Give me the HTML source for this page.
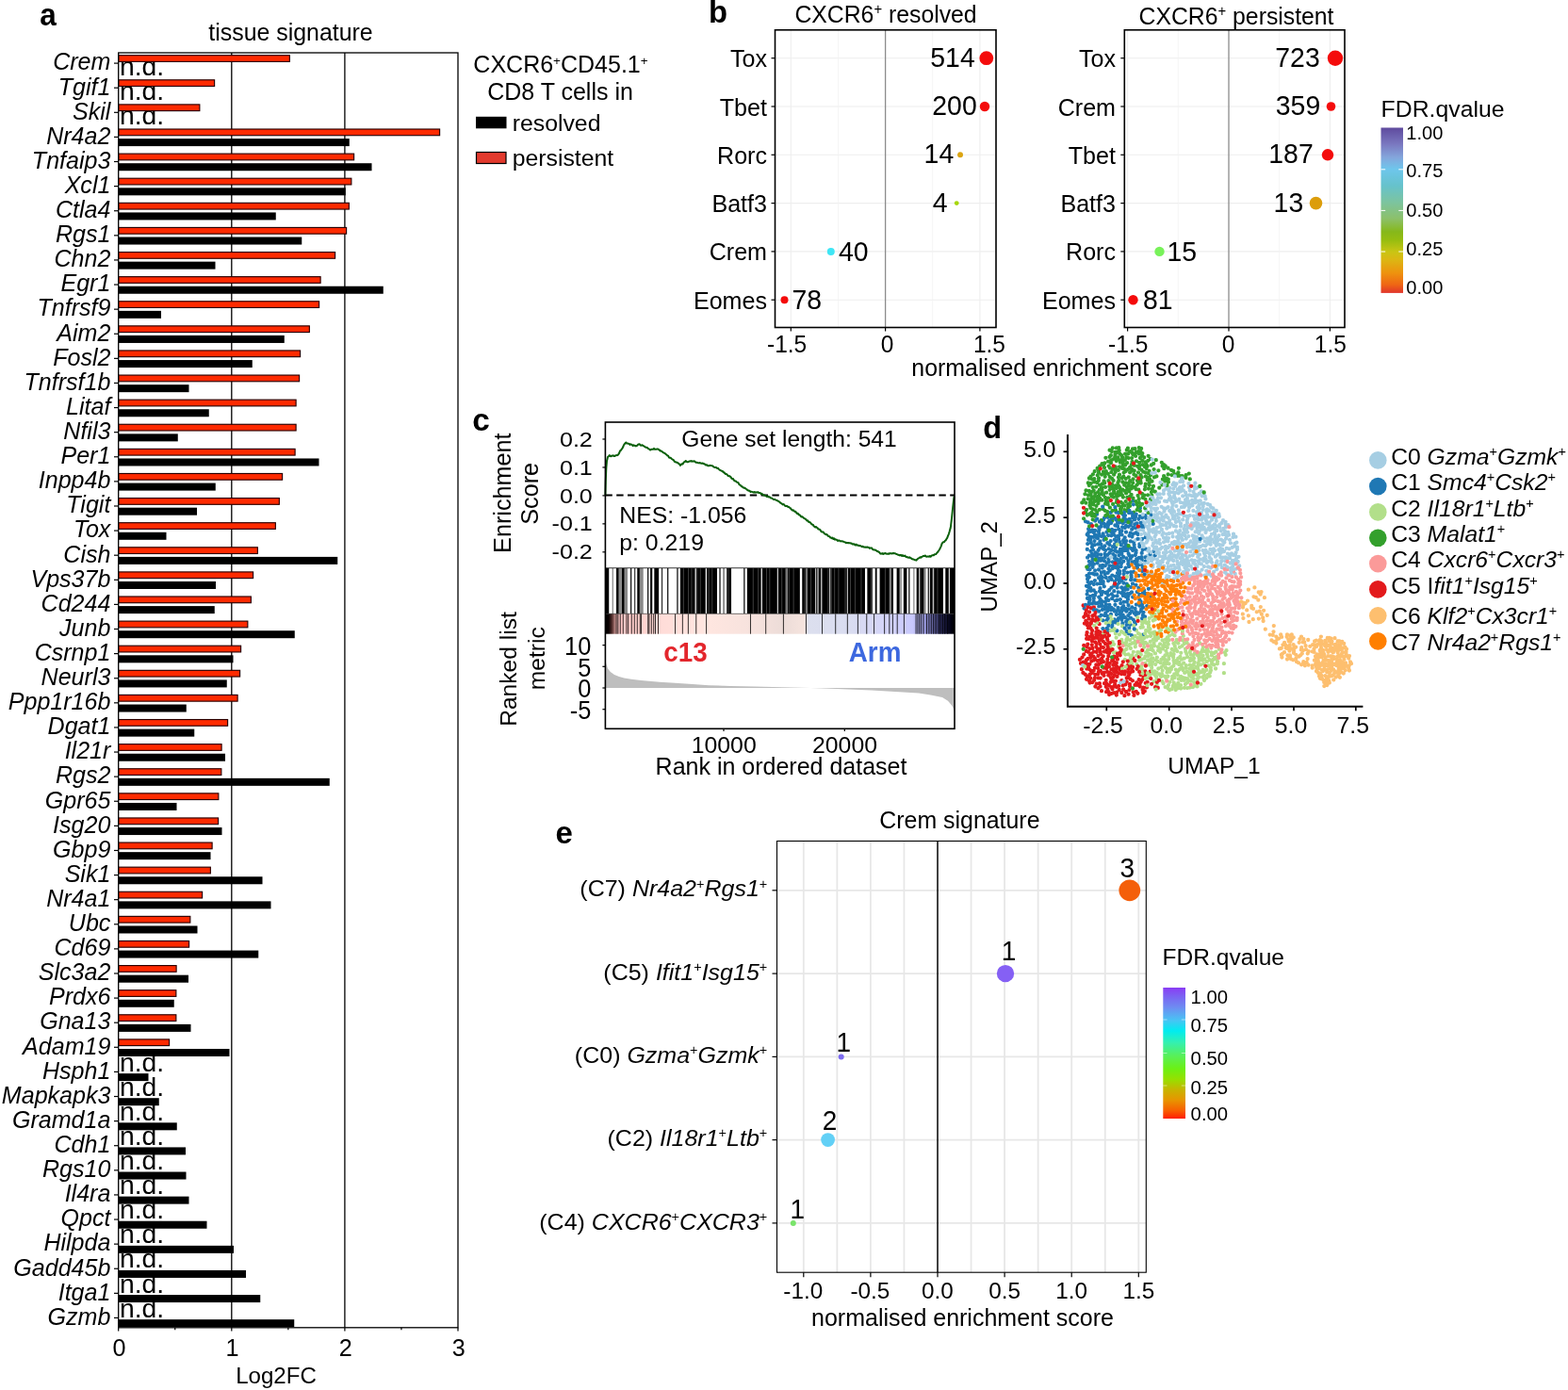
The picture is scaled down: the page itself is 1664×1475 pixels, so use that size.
<!DOCTYPE html>
<html lang="en"><head><meta charset="utf-8"><title>Figure</title>
<style>
html,body{margin:0;padding:0;background:#fff;}
body{width:1664px;height:1475px;overflow:hidden;}
svg{display:block;font-family:'Liberation Sans', sans-serif;}

</style></head><body>
<svg width="1664" height="1475" viewBox="0 0 1664 1475">
<rect width="1664" height="1475" fill="#fff"/>
<g id="panel-a">
<text font-size="33.2" font-weight="bold" transform="translate(42.3 27.4) scale(0.95 1)">a</text>
<text font-size="24.9" text-anchor="middle" transform="translate(308.5 42.6) scale(1 1)">tissue signature</text>
<text font-size="28.3" transform="translate(127 79.7) scale(1 1)">n.d.</text>
<text font-size="28.3" transform="translate(127 105.8) scale(1 1)">n.d.</text>
<text font-size="28.3" transform="translate(127 131.91) scale(1 1)">n.d.</text>
<text font-size="28.3" transform="translate(127 1136.61) scale(1 1)">n.d.</text>
<text font-size="28.3" transform="translate(127 1162.71) scale(1 1)">n.d.</text>
<text font-size="28.3" transform="translate(127 1188.82) scale(1 1)">n.d.</text>
<text font-size="28.3" transform="translate(127 1214.92) scale(1 1)">n.d.</text>
<text font-size="28.3" transform="translate(127 1241.02) scale(1 1)">n.d.</text>
<text font-size="28.3" transform="translate(127 1267.13) scale(1 1)">n.d.</text>
<text font-size="28.3" transform="translate(127 1293.23) scale(1 1)">n.d.</text>
<text font-size="28.3" transform="translate(127 1319.34) scale(1 1)">n.d.</text>
<text font-size="28.3" transform="translate(127 1345.44) scale(1 1)">n.d.</text>
<text font-size="28.3" transform="translate(127 1371.55) scale(1 1)">n.d.</text>
<text font-size="28.3" transform="translate(127 1397.65) scale(1 1)">n.d.</text>
<line x1="245.8" y1="56" x2="245.8" y2="1408.8" stroke="#000" stroke-width="1.3" />
<line x1="365.9" y1="56" x2="365.9" y2="1408.8" stroke="#000" stroke-width="1.3" />
<rect x="125.7" y="58.7" width="181.65" height="6.7" fill="#ff2a00" stroke="#2a0000" stroke-width="1.15" />
<rect x="125.7" y="84.8" width="101.9" height="6.7" fill="#ff2a00" stroke="#2a0000" stroke-width="1.15" />
<rect x="125.7" y="110.91" width="86.15" height="6.7" fill="#ff2a00" stroke="#2a0000" stroke-width="1.15" />
<rect x="125.7" y="137.01" width="340.9" height="6.7" fill="#ff2a00" stroke="#2a0000" stroke-width="1.15" />
<rect x="125.7" y="147.11" width="245.05" height="8" fill="#000" stroke="none" stroke-width="1" />
<rect x="125.7" y="163.12" width="249.9" height="6.7" fill="#ff2a00" stroke="#2a0000" stroke-width="1.15" />
<rect x="125.7" y="173.22" width="268.8" height="8" fill="#000" stroke="none" stroke-width="1" />
<rect x="125.7" y="189.22" width="247.15" height="6.7" fill="#ff2a00" stroke="#2a0000" stroke-width="1.15" />
<rect x="125.7" y="199.32" width="241.05" height="8" fill="#000" stroke="none" stroke-width="1" />
<rect x="125.7" y="215.33" width="244.65" height="6.7" fill="#ff2a00" stroke="#2a0000" stroke-width="1.15" />
<rect x="125.7" y="225.43" width="167.05" height="8" fill="#000" stroke="none" stroke-width="1" />
<rect x="125.7" y="241.44" width="241.9" height="6.7" fill="#ff2a00" stroke="#2a0000" stroke-width="1.15" />
<rect x="125.7" y="251.53" width="194.55" height="8" fill="#000" stroke="none" stroke-width="1" />
<rect x="125.7" y="267.54" width="229.9" height="6.7" fill="#ff2a00" stroke="#2a0000" stroke-width="1.15" />
<rect x="125.7" y="277.64" width="102.8" height="8" fill="#000" stroke="none" stroke-width="1" />
<rect x="125.7" y="293.64" width="214.4" height="6.7" fill="#ff2a00" stroke="#2a0000" stroke-width="1.15" />
<rect x="125.7" y="303.74" width="281.05" height="8" fill="#000" stroke="none" stroke-width="1" />
<rect x="125.7" y="319.75" width="212.9" height="6.7" fill="#ff2a00" stroke="#2a0000" stroke-width="1.15" />
<rect x="125.7" y="329.85" width="45.3" height="8" fill="#000" stroke="none" stroke-width="1" />
<rect x="125.7" y="345.86" width="202.65" height="6.7" fill="#ff2a00" stroke="#2a0000" stroke-width="1.15" />
<rect x="125.7" y="355.95" width="176.05" height="8" fill="#000" stroke="none" stroke-width="1" />
<rect x="125.7" y="371.96" width="192.9" height="6.7" fill="#ff2a00" stroke="#2a0000" stroke-width="1.15" />
<rect x="125.7" y="382.06" width="142.05" height="8" fill="#000" stroke="none" stroke-width="1" />
<rect x="125.7" y="398.07" width="191.9" height="6.7" fill="#ff2a00" stroke="#2a0000" stroke-width="1.15" />
<rect x="125.7" y="408.17" width="74.8" height="8" fill="#000" stroke="none" stroke-width="1" />
<rect x="125.7" y="424.17" width="188.4" height="6.7" fill="#ff2a00" stroke="#2a0000" stroke-width="1.15" />
<rect x="125.7" y="434.27" width="96.05" height="8" fill="#000" stroke="none" stroke-width="1" />
<rect x="125.7" y="450.27" width="188.4" height="6.7" fill="#ff2a00" stroke="#2a0000" stroke-width="1.15" />
<rect x="125.7" y="460.37" width="63.05" height="8" fill="#000" stroke="none" stroke-width="1" />
<rect x="125.7" y="476.38" width="187.4" height="6.7" fill="#ff2a00" stroke="#2a0000" stroke-width="1.15" />
<rect x="125.7" y="486.48" width="212.8" height="8" fill="#000" stroke="none" stroke-width="1" />
<rect x="125.7" y="502.49" width="173.9" height="6.7" fill="#ff2a00" stroke="#2a0000" stroke-width="1.15" />
<rect x="125.7" y="512.59" width="103.05" height="8" fill="#000" stroke="none" stroke-width="1" />
<rect x="125.7" y="528.59" width="170.65" height="6.7" fill="#ff2a00" stroke="#2a0000" stroke-width="1.15" />
<rect x="125.7" y="538.69" width="83.3" height="8" fill="#000" stroke="none" stroke-width="1" />
<rect x="125.7" y="554.7" width="166.65" height="6.7" fill="#ff2a00" stroke="#2a0000" stroke-width="1.15" />
<rect x="125.7" y="564.8" width="50.8" height="8" fill="#000" stroke="none" stroke-width="1" />
<rect x="125.7" y="580.8" width="147.65" height="6.7" fill="#ff2a00" stroke="#2a0000" stroke-width="1.15" />
<rect x="125.7" y="590.9" width="232.55" height="8" fill="#000" stroke="none" stroke-width="1" />
<rect x="125.7" y="606.91" width="142.9" height="6.7" fill="#ff2a00" stroke="#2a0000" stroke-width="1.15" />
<rect x="125.7" y="617.01" width="103.3" height="8" fill="#000" stroke="none" stroke-width="1" />
<rect x="125.7" y="633.01" width="140.65" height="6.7" fill="#ff2a00" stroke="#2a0000" stroke-width="1.15" />
<rect x="125.7" y="643.11" width="102.05" height="8" fill="#000" stroke="none" stroke-width="1" />
<rect x="125.7" y="659.12" width="137.15" height="6.7" fill="#ff2a00" stroke="#2a0000" stroke-width="1.15" />
<rect x="125.7" y="669.22" width="187.05" height="8" fill="#000" stroke="none" stroke-width="1" />
<rect x="125.7" y="685.22" width="129.9" height="6.7" fill="#ff2a00" stroke="#2a0000" stroke-width="1.15" />
<rect x="125.7" y="695.32" width="121.8" height="8" fill="#000" stroke="none" stroke-width="1" />
<rect x="125.7" y="711.33" width="128.9" height="6.7" fill="#ff2a00" stroke="#2a0000" stroke-width="1.15" />
<rect x="125.7" y="721.43" width="115.05" height="8" fill="#000" stroke="none" stroke-width="1" />
<rect x="125.7" y="737.43" width="126.4" height="6.7" fill="#ff2a00" stroke="#2a0000" stroke-width="1.15" />
<rect x="125.7" y="747.53" width="72.05" height="8" fill="#000" stroke="none" stroke-width="1" />
<rect x="125.7" y="763.54" width="115.9" height="6.7" fill="#ff2a00" stroke="#2a0000" stroke-width="1.15" />
<rect x="125.7" y="773.64" width="80.55" height="8" fill="#000" stroke="none" stroke-width="1" />
<rect x="125.7" y="789.64" width="109.4" height="6.7" fill="#ff2a00" stroke="#2a0000" stroke-width="1.15" />
<rect x="125.7" y="799.74" width="113.3" height="8" fill="#000" stroke="none" stroke-width="1" />
<rect x="125.7" y="815.75" width="109.15" height="6.7" fill="#ff2a00" stroke="#2a0000" stroke-width="1.15" />
<rect x="125.7" y="825.85" width="224.05" height="8" fill="#000" stroke="none" stroke-width="1" />
<rect x="125.7" y="841.85" width="106.15" height="6.7" fill="#ff2a00" stroke="#2a0000" stroke-width="1.15" />
<rect x="125.7" y="851.95" width="61.8" height="8" fill="#000" stroke="none" stroke-width="1" />
<rect x="125.7" y="867.96" width="105.9" height="6.7" fill="#ff2a00" stroke="#2a0000" stroke-width="1.15" />
<rect x="125.7" y="878.06" width="109.8" height="8" fill="#000" stroke="none" stroke-width="1" />
<rect x="125.7" y="894.06" width="99.4" height="6.7" fill="#ff2a00" stroke="#2a0000" stroke-width="1.15" />
<rect x="125.7" y="904.16" width="97.8" height="8" fill="#000" stroke="none" stroke-width="1" />
<rect x="125.7" y="920.17" width="97.65" height="6.7" fill="#ff2a00" stroke="#2a0000" stroke-width="1.15" />
<rect x="125.7" y="930.27" width="152.8" height="8" fill="#000" stroke="none" stroke-width="1" />
<rect x="125.7" y="946.27" width="88.9" height="6.7" fill="#ff2a00" stroke="#2a0000" stroke-width="1.15" />
<rect x="125.7" y="956.37" width="161.8" height="8" fill="#000" stroke="none" stroke-width="1" />
<rect x="125.7" y="972.38" width="76.15" height="6.7" fill="#ff2a00" stroke="#2a0000" stroke-width="1.15" />
<rect x="125.7" y="982.48" width="83.8" height="8" fill="#000" stroke="none" stroke-width="1" />
<rect x="125.7" y="998.48" width="74.9" height="6.7" fill="#ff2a00" stroke="#2a0000" stroke-width="1.15" />
<rect x="125.7" y="1008.58" width="148.55" height="8" fill="#000" stroke="none" stroke-width="1" />
<rect x="125.7" y="1024.58" width="61.4" height="6.7" fill="#ff2a00" stroke="#2a0000" stroke-width="1.15" />
<rect x="125.7" y="1034.68" width="74.3" height="8" fill="#000" stroke="none" stroke-width="1" />
<rect x="125.7" y="1050.69" width="61.15" height="6.7" fill="#ff2a00" stroke="#2a0000" stroke-width="1.15" />
<rect x="125.7" y="1060.79" width="59.05" height="8" fill="#000" stroke="none" stroke-width="1" />
<rect x="125.7" y="1076.79" width="61.15" height="6.7" fill="#ff2a00" stroke="#2a0000" stroke-width="1.15" />
<rect x="125.7" y="1086.89" width="76.8" height="8" fill="#000" stroke="none" stroke-width="1" />
<rect x="125.7" y="1102.9" width="53.9" height="6.7" fill="#ff2a00" stroke="#2a0000" stroke-width="1.15" />
<rect x="125.7" y="1113" width="117.8" height="8" fill="#000" stroke="none" stroke-width="1" />
<rect x="125.7" y="1139.11" width="31.8" height="8" fill="#000" stroke="none" stroke-width="1" />
<rect x="125.7" y="1165.21" width="43.05" height="8" fill="#000" stroke="none" stroke-width="1" />
<rect x="125.7" y="1191.32" width="62.05" height="8" fill="#000" stroke="none" stroke-width="1" />
<rect x="125.7" y="1217.42" width="71.3" height="8" fill="#000" stroke="none" stroke-width="1" />
<rect x="125.7" y="1243.52" width="71.8" height="8" fill="#000" stroke="none" stroke-width="1" />
<rect x="125.7" y="1269.63" width="74.8" height="8" fill="#000" stroke="none" stroke-width="1" />
<rect x="125.7" y="1295.73" width="93.8" height="8" fill="#000" stroke="none" stroke-width="1" />
<rect x="125.7" y="1321.84" width="122.3" height="8" fill="#000" stroke="none" stroke-width="1" />
<rect x="125.7" y="1347.94" width="135.3" height="8" fill="#000" stroke="none" stroke-width="1" />
<rect x="125.7" y="1374.05" width="150.55" height="8" fill="#000" stroke="none" stroke-width="1" />
<rect x="125.7" y="1400.15" width="186.55" height="8" fill="#000" stroke="none" stroke-width="1" />
<rect x="125.7" y="56" width="360.3" height="1352.8" fill="none" stroke="#000" stroke-width="1.3" />
<line x1="121" y1="67.1" x2="125.7" y2="67.1" stroke="#000" stroke-width="1.2" />
<text font-size="25.05" text-anchor="end" font-style="italic" transform="translate(117.4 74.4) scale(1 1)">Crem</text>
<line x1="121" y1="93.2" x2="125.7" y2="93.2" stroke="#000" stroke-width="1.2" />
<text font-size="25.05" text-anchor="end" font-style="italic" transform="translate(117.4 100.5) scale(1 1)">Tgif1</text>
<line x1="121" y1="119.31" x2="125.7" y2="119.31" stroke="#000" stroke-width="1.2" />
<text font-size="25.05" text-anchor="end" font-style="italic" transform="translate(117.4 126.61) scale(1 1)">Skil</text>
<line x1="121" y1="145.41" x2="125.7" y2="145.41" stroke="#000" stroke-width="1.2" />
<text font-size="25.05" text-anchor="end" font-style="italic" transform="translate(117.4 152.72) scale(1 1)">Nr4a2</text>
<line x1="121" y1="171.52" x2="125.7" y2="171.52" stroke="#000" stroke-width="1.2" />
<text font-size="25.05" text-anchor="end" font-style="italic" transform="translate(117.4 178.82) scale(1 1)">Tnfaip3</text>
<line x1="121" y1="197.62" x2="125.7" y2="197.62" stroke="#000" stroke-width="1.2" />
<text font-size="25.05" text-anchor="end" font-style="italic" transform="translate(117.4 204.93) scale(1 1)">Xcl1</text>
<line x1="121" y1="223.73" x2="125.7" y2="223.73" stroke="#000" stroke-width="1.2" />
<text font-size="25.05" text-anchor="end" font-style="italic" transform="translate(117.4 231.03) scale(1 1)">Ctla4</text>
<line x1="121" y1="249.84" x2="125.7" y2="249.84" stroke="#000" stroke-width="1.2" />
<text font-size="25.05" text-anchor="end" font-style="italic" transform="translate(117.4 257.13) scale(1 1)">Rgs1</text>
<line x1="121" y1="275.94" x2="125.7" y2="275.94" stroke="#000" stroke-width="1.2" />
<text font-size="25.05" text-anchor="end" font-style="italic" transform="translate(117.4 283.24) scale(1 1)">Chn2</text>
<line x1="121" y1="302.04" x2="125.7" y2="302.04" stroke="#000" stroke-width="1.2" />
<text font-size="25.05" text-anchor="end" font-style="italic" transform="translate(117.4 309.34) scale(1 1)">Egr1</text>
<line x1="121" y1="328.15" x2="125.7" y2="328.15" stroke="#000" stroke-width="1.2" />
<text font-size="25.05" text-anchor="end" font-style="italic" transform="translate(117.4 335.45) scale(1 1)">Tnfrsf9</text>
<line x1="121" y1="354.25" x2="125.7" y2="354.25" stroke="#000" stroke-width="1.2" />
<text font-size="25.05" text-anchor="end" font-style="italic" transform="translate(117.4 361.56) scale(1 1)">Aim2</text>
<line x1="121" y1="380.36" x2="125.7" y2="380.36" stroke="#000" stroke-width="1.2" />
<text font-size="25.05" text-anchor="end" font-style="italic" transform="translate(117.4 387.66) scale(1 1)">Fosl2</text>
<line x1="121" y1="406.47" x2="125.7" y2="406.47" stroke="#000" stroke-width="1.2" />
<text font-size="25.05" text-anchor="end" font-style="italic" transform="translate(117.4 413.77) scale(1 1)">Tnfrsf1b</text>
<line x1="121" y1="432.57" x2="125.7" y2="432.57" stroke="#000" stroke-width="1.2" />
<text font-size="25.05" text-anchor="end" font-style="italic" transform="translate(117.4 439.87) scale(1 1)">Litaf</text>
<line x1="121" y1="458.67" x2="125.7" y2="458.67" stroke="#000" stroke-width="1.2" />
<text font-size="25.05" text-anchor="end" font-style="italic" transform="translate(117.4 465.97) scale(1 1)">Nfil3</text>
<line x1="121" y1="484.78" x2="125.7" y2="484.78" stroke="#000" stroke-width="1.2" />
<text font-size="25.05" text-anchor="end" font-style="italic" transform="translate(117.4 492.08) scale(1 1)">Per1</text>
<line x1="121" y1="510.88" x2="125.7" y2="510.88" stroke="#000" stroke-width="1.2" />
<text font-size="25.05" text-anchor="end" font-style="italic" transform="translate(117.4 518.18) scale(1 1)">Inpp4b</text>
<line x1="121" y1="536.99" x2="125.7" y2="536.99" stroke="#000" stroke-width="1.2" />
<text font-size="25.05" text-anchor="end" font-style="italic" transform="translate(117.4 544.29) scale(1 1)">Tigit</text>
<line x1="121" y1="563.1" x2="125.7" y2="563.1" stroke="#000" stroke-width="1.2" />
<text font-size="25.05" text-anchor="end" font-style="italic" transform="translate(117.4 570.39) scale(1 1)">Tox</text>
<line x1="121" y1="589.2" x2="125.7" y2="589.2" stroke="#000" stroke-width="1.2" />
<text font-size="25.05" text-anchor="end" font-style="italic" transform="translate(117.4 596.5) scale(1 1)">Cish</text>
<line x1="121" y1="615.31" x2="125.7" y2="615.31" stroke="#000" stroke-width="1.2" />
<text font-size="25.05" text-anchor="end" font-style="italic" transform="translate(117.4 622.61) scale(1 1)">Vps37b</text>
<line x1="121" y1="641.41" x2="125.7" y2="641.41" stroke="#000" stroke-width="1.2" />
<text font-size="25.05" text-anchor="end" font-style="italic" transform="translate(117.4 648.71) scale(1 1)">Cd244</text>
<line x1="121" y1="667.51" x2="125.7" y2="667.51" stroke="#000" stroke-width="1.2" />
<text font-size="25.05" text-anchor="end" font-style="italic" transform="translate(117.4 674.81) scale(1 1)">Junb</text>
<line x1="121" y1="693.62" x2="125.7" y2="693.62" stroke="#000" stroke-width="1.2" />
<text font-size="25.05" text-anchor="end" font-style="italic" transform="translate(117.4 700.92) scale(1 1)">Csrnp1</text>
<line x1="121" y1="719.73" x2="125.7" y2="719.73" stroke="#000" stroke-width="1.2" />
<text font-size="25.05" text-anchor="end" font-style="italic" transform="translate(117.4 727.02) scale(1 1)">Neurl3</text>
<line x1="121" y1="745.83" x2="125.7" y2="745.83" stroke="#000" stroke-width="1.2" />
<text font-size="25.05" text-anchor="end" font-style="italic" transform="translate(117.4 753.13) scale(1 1)">Ppp1r16b</text>
<line x1="121" y1="771.94" x2="125.7" y2="771.94" stroke="#000" stroke-width="1.2" />
<text font-size="25.05" text-anchor="end" font-style="italic" transform="translate(117.4 779.24) scale(1 1)">Dgat1</text>
<line x1="121" y1="798.04" x2="125.7" y2="798.04" stroke="#000" stroke-width="1.2" />
<text font-size="25.05" text-anchor="end" font-style="italic" transform="translate(117.4 805.34) scale(1 1)">Il21r</text>
<line x1="121" y1="824.14" x2="125.7" y2="824.14" stroke="#000" stroke-width="1.2" />
<text font-size="25.05" text-anchor="end" font-style="italic" transform="translate(117.4 831.44) scale(1 1)">Rgs2</text>
<line x1="121" y1="850.25" x2="125.7" y2="850.25" stroke="#000" stroke-width="1.2" />
<text font-size="25.05" text-anchor="end" font-style="italic" transform="translate(117.4 857.55) scale(1 1)">Gpr65</text>
<line x1="121" y1="876.36" x2="125.7" y2="876.36" stroke="#000" stroke-width="1.2" />
<text font-size="25.05" text-anchor="end" font-style="italic" transform="translate(117.4 883.65) scale(1 1)">Isg20</text>
<line x1="121" y1="902.46" x2="125.7" y2="902.46" stroke="#000" stroke-width="1.2" />
<text font-size="25.05" text-anchor="end" font-style="italic" transform="translate(117.4 909.76) scale(1 1)">Gbp9</text>
<line x1="121" y1="928.57" x2="125.7" y2="928.57" stroke="#000" stroke-width="1.2" />
<text font-size="25.05" text-anchor="end" font-style="italic" transform="translate(117.4 935.87) scale(1 1)">Sik1</text>
<line x1="121" y1="954.67" x2="125.7" y2="954.67" stroke="#000" stroke-width="1.2" />
<text font-size="25.05" text-anchor="end" font-style="italic" transform="translate(117.4 961.97) scale(1 1)">Nr4a1</text>
<line x1="121" y1="980.78" x2="125.7" y2="980.78" stroke="#000" stroke-width="1.2" />
<text font-size="25.05" text-anchor="end" font-style="italic" transform="translate(117.4 988.08) scale(1 1)">Ubc</text>
<line x1="121" y1="1006.88" x2="125.7" y2="1006.88" stroke="#000" stroke-width="1.2" />
<text font-size="25.05" text-anchor="end" font-style="italic" transform="translate(117.4 1014.18) scale(1 1)">Cd69</text>
<line x1="121" y1="1032.98" x2="125.7" y2="1032.98" stroke="#000" stroke-width="1.2" />
<text font-size="25.05" text-anchor="end" font-style="italic" transform="translate(117.4 1040.28) scale(1 1)">Slc3a2</text>
<line x1="121" y1="1059.09" x2="125.7" y2="1059.09" stroke="#000" stroke-width="1.2" />
<text font-size="25.05" text-anchor="end" font-style="italic" transform="translate(117.4 1066.39) scale(1 1)">Prdx6</text>
<line x1="121" y1="1085.19" x2="125.7" y2="1085.19" stroke="#000" stroke-width="1.2" />
<text font-size="25.05" text-anchor="end" font-style="italic" transform="translate(117.4 1092.49) scale(1 1)">Gna13</text>
<line x1="121" y1="1111.3" x2="125.7" y2="1111.3" stroke="#000" stroke-width="1.2" />
<text font-size="25.05" text-anchor="end" font-style="italic" transform="translate(117.4 1118.6) scale(1 1)">Adam19</text>
<line x1="121" y1="1137.4" x2="125.7" y2="1137.4" stroke="#000" stroke-width="1.2" />
<text font-size="25.05" text-anchor="end" font-style="italic" transform="translate(117.4 1144.7) scale(1 1)">Hsph1</text>
<line x1="121" y1="1163.51" x2="125.7" y2="1163.51" stroke="#000" stroke-width="1.2" />
<text font-size="25.05" text-anchor="end" font-style="italic" transform="translate(117.4 1170.81) scale(1 1)">Mapkapk3</text>
<line x1="121" y1="1189.62" x2="125.7" y2="1189.62" stroke="#000" stroke-width="1.2" />
<text font-size="25.05" text-anchor="end" font-style="italic" transform="translate(117.4 1196.91) scale(1 1)">Gramd1a</text>
<line x1="121" y1="1215.72" x2="125.7" y2="1215.72" stroke="#000" stroke-width="1.2" />
<text font-size="25.05" text-anchor="end" font-style="italic" transform="translate(117.4 1223.02) scale(1 1)">Cdh1</text>
<line x1="121" y1="1241.82" x2="125.7" y2="1241.82" stroke="#000" stroke-width="1.2" />
<text font-size="25.05" text-anchor="end" font-style="italic" transform="translate(117.4 1249.12) scale(1 1)">Rgs10</text>
<line x1="121" y1="1267.93" x2="125.7" y2="1267.93" stroke="#000" stroke-width="1.2" />
<text font-size="25.05" text-anchor="end" font-style="italic" transform="translate(117.4 1275.23) scale(1 1)">Il4ra</text>
<line x1="121" y1="1294.03" x2="125.7" y2="1294.03" stroke="#000" stroke-width="1.2" />
<text font-size="25.05" text-anchor="end" font-style="italic" transform="translate(117.4 1301.33) scale(1 1)">Qpct</text>
<line x1="121" y1="1320.14" x2="125.7" y2="1320.14" stroke="#000" stroke-width="1.2" />
<text font-size="25.05" text-anchor="end" font-style="italic" transform="translate(117.4 1327.44) scale(1 1)">Hilpda</text>
<line x1="121" y1="1346.24" x2="125.7" y2="1346.24" stroke="#000" stroke-width="1.2" />
<text font-size="25.05" text-anchor="end" font-style="italic" transform="translate(117.4 1353.54) scale(1 1)">Gadd45b</text>
<line x1="121" y1="1372.35" x2="125.7" y2="1372.35" stroke="#000" stroke-width="1.2" />
<text font-size="25.05" text-anchor="end" font-style="italic" transform="translate(117.4 1379.65) scale(1 1)">Itga1</text>
<line x1="121" y1="1398.45" x2="125.7" y2="1398.45" stroke="#000" stroke-width="1.2" />
<text font-size="25.05" text-anchor="end" font-style="italic" transform="translate(117.4 1405.75) scale(1 1)">Gzmb</text>
<line x1="125.7" y1="1408.8" x2="125.7" y2="1412.6" stroke="#000" stroke-width="1.2" />
<line x1="185.75" y1="1408.8" x2="185.75" y2="1411.2" stroke="#000" stroke-width="1.2" />
<line x1="245.8" y1="1408.8" x2="245.8" y2="1412.6" stroke="#000" stroke-width="1.2" />
<line x1="305.85" y1="1408.8" x2="305.85" y2="1411.2" stroke="#000" stroke-width="1.2" />
<line x1="365.9" y1="1408.8" x2="365.9" y2="1412.6" stroke="#000" stroke-width="1.2" />
<line x1="425.95" y1="1408.8" x2="425.95" y2="1411.2" stroke="#000" stroke-width="1.2" />
<line x1="486" y1="1408.8" x2="486" y2="1412.6" stroke="#000" stroke-width="1.2" />
<text font-size="25.2" text-anchor="middle" transform="translate(126.5 1438.5) scale(1 1)">0</text>
<text font-size="25.2" text-anchor="middle" transform="translate(246.6 1438.5) scale(1 1)">1</text>
<text font-size="25.2" text-anchor="middle" transform="translate(366.7 1438.5) scale(1 1)">2</text>
<text font-size="25.2" text-anchor="middle" transform="translate(486.8 1438.5) scale(1 1)">3</text>
<text font-size="24.1" text-anchor="middle" transform="translate(293 1468) scale(1 1)">Log2FC</text>
<text transform="translate(595 77.4) scale(1 1)" font-size="25" text-anchor="middle" xml:space="preserve"><tspan>CXCR6</tspan><tspan font-size="13.5" dy="-8.3">+</tspan><tspan dy="8.3">CD45.1</tspan><tspan font-size="13.5" dy="-8.3">+</tspan></text>
<text font-size="25" text-anchor="middle" transform="translate(594.5 106.3) scale(1 1)">CD8 T cells in</text>
<rect x="505" y="123.8" width="32.5" height="12.5" fill="#000" stroke="none" stroke-width="1" />
<text font-size="24.8" transform="translate(543.7 139.2) scale(1 1)">resolved</text>
<rect x="505.5" y="161.5" width="31.5" height="12" fill="#e23a2e" stroke="#000" stroke-width="1.2" />
<text font-size="24.8" transform="translate(543.7 176.3) scale(1 1)">persistent</text>
</g>
<g id="panel-b">
<text font-size="32.8" font-weight="bold" transform="translate(752 24) scale(1 1.03)">b</text>
<line x1="822.5" y1="61.7" x2="1057" y2="61.7" stroke="#eeeeee" stroke-width="1.1" />
<line x1="822.5" y1="113" x2="1057" y2="113" stroke="#eeeeee" stroke-width="1.1" />
<line x1="822.5" y1="164.3" x2="1057" y2="164.3" stroke="#eeeeee" stroke-width="1.1" />
<line x1="822.5" y1="215.6" x2="1057" y2="215.6" stroke="#eeeeee" stroke-width="1.1" />
<line x1="822.5" y1="266.9" x2="1057" y2="266.9" stroke="#eeeeee" stroke-width="1.1" />
<line x1="822.5" y1="318.2" x2="1057" y2="318.2" stroke="#eeeeee" stroke-width="1.1" />
<line x1="889.45" y1="31.8" x2="889.45" y2="347.5" stroke="#f2f2f2" stroke-width="0.8" />
<line x1="989.75" y1="31.8" x2="989.75" y2="347.5" stroke="#f2f2f2" stroke-width="0.8" />
<line x1="839.3" y1="31.8" x2="839.3" y2="347.5" stroke="#eeeeee" stroke-width="1.1" />
<line x1="1039.9" y1="31.8" x2="1039.9" y2="347.5" stroke="#eeeeee" stroke-width="1.1" />
<line x1="939.6" y1="31.8" x2="939.6" y2="347.5" stroke="#8c8c8c" stroke-width="1.3" />
<circle cx="1046.8" cy="61.7" r="7.4" fill="#f40b0b"/>
<text font-size="28.4" text-anchor="end" transform="translate(1034.7 70.7) scale(1 1.07)">514</text>
<circle cx="1045" cy="113" r="5.25" fill="#f40b0b"/>
<text font-size="28.4" text-anchor="end" transform="translate(1036.7 122) scale(1 1.07)">200</text>
<circle cx="1019" cy="164.3" r="3" fill="#dba411"/>
<text font-size="28.4" text-anchor="end" transform="translate(1012.2 173.3) scale(1 1.07)">14</text>
<circle cx="1015.2" cy="215.6" r="2.4" fill="#a6d608"/>
<text font-size="28.4" text-anchor="end" transform="translate(1005.5 224.6) scale(1 1.07)">4</text>
<circle cx="881.8" cy="266.9" r="4" fill="#3fe6f5"/>
<text font-size="28.4" transform="translate(890 276.5) scale(1 1.07)">40</text>
<circle cx="832.5" cy="318.2" r="4" fill="#f40b0b"/>
<text font-size="28.4" transform="translate(840.5 327.8) scale(1 1.07)">78</text>
<rect x="822.5" y="31.8" width="234.5" height="315.7" fill="none" stroke="#000" stroke-width="1.6" />
<line x1="818.5" y1="61.7" x2="822.5" y2="61.7" stroke="#000" stroke-width="1.2" />
<text font-size="25.1" text-anchor="end" transform="translate(814 71.2) scale(1 1.05)">Tox</text>
<line x1="818.5" y1="113" x2="822.5" y2="113" stroke="#000" stroke-width="1.2" />
<text font-size="25.1" text-anchor="end" transform="translate(814 122.5) scale(1 1.05)">Tbet</text>
<line x1="818.5" y1="164.3" x2="822.5" y2="164.3" stroke="#000" stroke-width="1.2" />
<text font-size="25.1" text-anchor="end" transform="translate(814 173.8) scale(1 1.05)">Rorc</text>
<line x1="818.5" y1="215.6" x2="822.5" y2="215.6" stroke="#000" stroke-width="1.2" />
<text font-size="25.1" text-anchor="end" transform="translate(814 225.1) scale(1 1.05)">Batf3</text>
<line x1="818.5" y1="266.9" x2="822.5" y2="266.9" stroke="#000" stroke-width="1.2" />
<text font-size="25.1" text-anchor="end" transform="translate(814 276.4) scale(1 1.05)">Crem</text>
<line x1="818.5" y1="318.2" x2="822.5" y2="318.2" stroke="#000" stroke-width="1.2" />
<text font-size="25.1" text-anchor="end" transform="translate(814 327.7) scale(1 1.05)">Eomes</text>
<line x1="839.3" y1="347.5" x2="839.3" y2="351.5" stroke="#000" stroke-width="1.2" />
<text font-size="24.5" text-anchor="middle" transform="translate(835.1 374.2) scale(1 1.07)">-1.5</text>
<line x1="939.6" y1="347.5" x2="939.6" y2="351.5" stroke="#000" stroke-width="1.2" />
<text font-size="24.5" text-anchor="middle" transform="translate(941.6 374.2) scale(1 1.07)">0</text>
<line x1="1039.9" y1="347.5" x2="1039.9" y2="351.5" stroke="#000" stroke-width="1.2" />
<text font-size="24.5" text-anchor="middle" transform="translate(1049.9 374.2) scale(1 1.07)">1.5</text>
<text transform="translate(940 24.3) scale(1 1.05)" font-size="24.8" text-anchor="middle" xml:space="preserve"><tspan>CXCR6</tspan><tspan font-size="14.88" dy="-8.93">+</tspan><tspan dy="8.93"> resolved</tspan></text>
<line x1="1193.3" y1="61.7" x2="1427" y2="61.7" stroke="#eeeeee" stroke-width="1.1" />
<line x1="1193.3" y1="113" x2="1427" y2="113" stroke="#eeeeee" stroke-width="1.1" />
<line x1="1193.3" y1="164.3" x2="1427" y2="164.3" stroke="#eeeeee" stroke-width="1.1" />
<line x1="1193.3" y1="215.6" x2="1427" y2="215.6" stroke="#eeeeee" stroke-width="1.1" />
<line x1="1193.3" y1="266.9" x2="1427" y2="266.9" stroke="#eeeeee" stroke-width="1.1" />
<line x1="1193.3" y1="318.2" x2="1427" y2="318.2" stroke="#eeeeee" stroke-width="1.1" />
<line x1="1250.3" y1="31.8" x2="1250.3" y2="347.5" stroke="#f2f2f2" stroke-width="0.8" />
<line x1="1357.7" y1="31.8" x2="1357.7" y2="347.5" stroke="#f2f2f2" stroke-width="0.8" />
<line x1="1196.6" y1="31.8" x2="1196.6" y2="347.5" stroke="#eeeeee" stroke-width="1.1" />
<line x1="1411.4" y1="31.8" x2="1411.4" y2="347.5" stroke="#eeeeee" stroke-width="1.1" />
<line x1="1304" y1="31.8" x2="1304" y2="347.5" stroke="#8c8c8c" stroke-width="1.3" />
<circle cx="1417" cy="61.7" r="8.2" fill="#f40b0b"/>
<text font-size="28.4" text-anchor="end" transform="translate(1400.7 70.7) scale(1 1.07)">723</text>
<circle cx="1412.5" cy="113" r="4.8" fill="#f40b0b"/>
<text font-size="28.4" text-anchor="end" transform="translate(1401.2 122) scale(1 1.07)">359</text>
<circle cx="1409" cy="164.3" r="6.2" fill="#f40b0b"/>
<text font-size="28.4" text-anchor="end" transform="translate(1393.7 173.3) scale(1 1.07)">187</text>
<circle cx="1396.5" cy="215.6" r="6.8" fill="#dc9d0b"/>
<text font-size="28.4" text-anchor="end" transform="translate(1383.2 224.6) scale(1 1.07)">13</text>
<circle cx="1230.5" cy="266.9" r="5.2" fill="#78f25a"/>
<text font-size="28.4" transform="translate(1238.5 276.5) scale(1 1.07)">15</text>
<circle cx="1202.5" cy="318.2" r="5.2" fill="#f40b0b"/>
<text font-size="28.4" transform="translate(1213 327.8) scale(1 1.07)">81</text>
<rect x="1193.3" y="31.8" width="233.7" height="315.7" fill="none" stroke="#000" stroke-width="1.6" />
<line x1="1189.3" y1="61.7" x2="1193.3" y2="61.7" stroke="#000" stroke-width="1.2" />
<text font-size="25.1" text-anchor="end" transform="translate(1184 71.2) scale(1 1.05)">Tox</text>
<line x1="1189.3" y1="113" x2="1193.3" y2="113" stroke="#000" stroke-width="1.2" />
<text font-size="25.1" text-anchor="end" transform="translate(1184 122.5) scale(1 1.05)">Crem</text>
<line x1="1189.3" y1="164.3" x2="1193.3" y2="164.3" stroke="#000" stroke-width="1.2" />
<text font-size="25.1" text-anchor="end" transform="translate(1184 173.8) scale(1 1.05)">Tbet</text>
<line x1="1189.3" y1="215.6" x2="1193.3" y2="215.6" stroke="#000" stroke-width="1.2" />
<text font-size="25.1" text-anchor="end" transform="translate(1184 225.1) scale(1 1.05)">Batf3</text>
<line x1="1189.3" y1="266.9" x2="1193.3" y2="266.9" stroke="#000" stroke-width="1.2" />
<text font-size="25.1" text-anchor="end" transform="translate(1184 276.4) scale(1 1.05)">Rorc</text>
<line x1="1189.3" y1="318.2" x2="1193.3" y2="318.2" stroke="#000" stroke-width="1.2" />
<text font-size="25.1" text-anchor="end" transform="translate(1184 327.7) scale(1 1.05)">Eomes</text>
<line x1="1196.6" y1="347.5" x2="1196.6" y2="351.5" stroke="#000" stroke-width="1.2" />
<text font-size="24.5" text-anchor="middle" transform="translate(1197.2 374.2) scale(1 1.07)">-1.5</text>
<line x1="1304" y1="347.5" x2="1304" y2="351.5" stroke="#000" stroke-width="1.2" />
<text font-size="24.5" text-anchor="middle" transform="translate(1303.6 374.2) scale(1 1.07)">0</text>
<line x1="1411.4" y1="347.5" x2="1411.4" y2="351.5" stroke="#000" stroke-width="1.2" />
<text font-size="24.5" text-anchor="middle" transform="translate(1411.8 374.2) scale(1 1.07)">1.5</text>
<text transform="translate(1312 26.3) scale(1 1.05)" font-size="24.8" text-anchor="middle" xml:space="preserve"><tspan>CXCR6</tspan><tspan font-size="14.88" dy="-8.93">+</tspan><tspan dy="8.93"> persistent</tspan></text>
<text font-size="24.9" text-anchor="middle" transform="translate(1127.1 399.4) scale(1 1.03)">normalised enrichment score</text>
<text font-size="24.8" transform="translate(1465.6 124.4) scale(1 0.98)">FDR.qvalue</text>
<defs><linearGradient id="gb" x1="0" y1="1" x2="0" y2="0"><stop offset="0" stop-color="#e0342c"/><stop offset="0.05" stop-color="#ef6614"/><stop offset="0.12" stop-color="#ee920e"/><stop offset="0.2" stop-color="#dcb613"/><stop offset="0.25" stop-color="#c9c514"/><stop offset="0.32" stop-color="#96bd10"/><stop offset="0.37" stop-color="#86b81a"/><stop offset="0.45" stop-color="#8cc06a"/><stop offset="0.55" stop-color="#7cc4a0"/><stop offset="0.65" stop-color="#66c2cc"/><stop offset="0.75" stop-color="#6ec6ec"/><stop offset="0.82" stop-color="#84a6dc"/><stop offset="0.9" stop-color="#7a78c0"/><stop offset="1" stop-color="#5f4a9e"/></linearGradient></defs>
<rect x="1465.5" y="135.5" width="23.5" height="175.4" fill="url(#gb)" stroke="none" stroke-width="1" />
<text font-size="20.1" transform="translate(1492.3 311.8) scale(1 0.97)">0.00</text>
<line x1="1465.5" y1="267" x2="1470.2" y2="267" stroke="#fff" stroke-width="1" />
<line x1="1484.3" y1="267" x2="1489" y2="267" stroke="#fff" stroke-width="1" />
<text font-size="20.1" transform="translate(1492.3 271.2) scale(1 0.97)">0.25</text>
<line x1="1465.5" y1="223.4" x2="1470.2" y2="223.4" stroke="#fff" stroke-width="1" />
<line x1="1484.3" y1="223.4" x2="1489" y2="223.4" stroke="#fff" stroke-width="1" />
<text font-size="20.1" transform="translate(1492.3 229.9) scale(1 0.97)">0.50</text>
<line x1="1465.5" y1="179.8" x2="1470.2" y2="179.8" stroke="#fff" stroke-width="1" />
<line x1="1484.3" y1="179.8" x2="1489" y2="179.8" stroke="#fff" stroke-width="1" />
<text font-size="20.1" transform="translate(1492.3 188.3) scale(1 0.97)">0.75</text>
<text font-size="20.1" transform="translate(1492.3 147.6) scale(1 0.97)">1.00</text>
</g>
<g id="panel-c">
<text font-size="33.3" font-weight="bold" transform="translate(501.2 456.8) scale(1 1)">c</text>
<rect x="642.4" y="602.4" width="370.6" height="48.9" fill="#000" stroke="none" stroke-width="1" />
<rect x="646.23" y="603.2" width="3.61" height="48.1" fill="#fff" stroke="none" stroke-width="1" />
<rect x="650.43" y="603.2" width="3.61" height="48.1" fill="#fff" stroke="none" stroke-width="1" />
<rect x="665.46" y="603.2" width="3.61" height="48.1" fill="#fff" stroke="none" stroke-width="1" />
<rect x="670.26" y="603.2" width="3" height="48.1" fill="#fff" stroke="none" stroke-width="1" />
<rect x="674.23" y="603.2" width="2.04" height="48.1" fill="#fff" stroke="none" stroke-width="1" />
<rect x="682.28" y="603.2" width="4.81" height="48.1" fill="#fff" stroke="none" stroke-width="1" />
<rect x="688.29" y="603.2" width="1.8" height="48.1" fill="#fff" stroke="none" stroke-width="1" />
<rect x="692.26" y="603.2" width="2.04" height="48.1" fill="#fff" stroke="none" stroke-width="1" />
<rect x="699.11" y="603.2" width="3" height="48.1" fill="#fff" stroke="none" stroke-width="1" />
<rect x="703.08" y="603.2" width="5.05" height="48.1" fill="#fff" stroke="none" stroke-width="1" />
<rect x="709.33" y="603.2" width="9.01" height="48.1" fill="#fff" stroke="none" stroke-width="1" />
<rect x="719.54" y="603.2" width="2.4" height="48.1" fill="#fff" stroke="none" stroke-width="1" />
<rect x="737.57" y="603.2" width="1.2" height="48.1" fill="#fff" stroke="none" stroke-width="1" />
<rect x="748.75" y="603.2" width="1.2" height="48.1" fill="#fff" stroke="none" stroke-width="1" />
<rect x="761.01" y="603.2" width="2.4" height="48.1" fill="#fff" stroke="none" stroke-width="1" />
<rect x="764.62" y="603.2" width="3" height="48.1" fill="#fff" stroke="none" stroke-width="1" />
<rect x="768.46" y="603.2" width="2.76" height="48.1" fill="#fff" stroke="none" stroke-width="1" />
<rect x="776.03" y="603.2" width="13.22" height="48.1" fill="#fff" stroke="none" stroke-width="1" />
<rect x="790.46" y="603.2" width="2.4" height="48.1" fill="#fff" stroke="none" stroke-width="1" />
<rect x="807.64" y="603.2" width="1.2" height="48.1" fill="#fff" stroke="none" stroke-width="1" />
<rect x="848.85" y="603.2" width="2.4" height="48.1" fill="#fff" stroke="none" stroke-width="1" />
<rect x="917.96" y="603.2" width="2.4" height="48.1" fill="#fff" stroke="none" stroke-width="1" />
<rect x="925.77" y="603.2" width="3" height="48.1" fill="#fff" stroke="none" stroke-width="1" />
<rect x="930.58" y="603.2" width="3" height="48.1" fill="#fff" stroke="none" stroke-width="1" />
<rect x="948" y="603.2" width="3.61" height="48.1" fill="#fff" stroke="none" stroke-width="1" />
<rect x="956.42" y="603.2" width="2.4" height="48.1" fill="#fff" stroke="none" stroke-width="1" />
<rect x="962.43" y="603.2" width="1.8" height="48.1" fill="#fff" stroke="none" stroke-width="1" />
<rect x="965.43" y="603.2" width="4.21" height="48.1" fill="#fff" stroke="none" stroke-width="1" />
<rect x="970.24" y="603.2" width="2.4" height="48.1" fill="#fff" stroke="none" stroke-width="1" />
<rect x="982.26" y="603.2" width="2.4" height="48.1" fill="#fff" stroke="none" stroke-width="1" />
<rect x="1000.89" y="603.2" width="2.4" height="48.1" fill="#fff" stroke="none" stroke-width="1" />
<rect x="656.44" y="603.2" width="3.61" height="48.1" fill="#8a8a8a" stroke="none" stroke-width="1" />
<rect x="662.45" y="603.2" width="3" height="48.1" fill="#8a8a8a" stroke="none" stroke-width="1" />
<rect x="678.68" y="603.2" width="3.61" height="48.1" fill="#8a8a8a" stroke="none" stroke-width="1" />
<path d="M825.41 603.2V651.3M835.02 603.2V651.3M856.06 603.2V651.3M865.67 603.2V651.3M868.08 603.2V651.3M871.68 603.2V651.3M880.7 603.2V651.3M899.33 603.2V651.3M945 603.2V651.3M955.22 603.2V651.3M975.65 603.2V651.3M981.06 603.2V651.3M986.47 603.2V651.3M990.67 603.2V651.3M1007.5 603.2V651.3M725.4 603.2V651.3M730.6 603.2V651.3M733.95 603.2V651.3M739.99 603.2V651.3M743.22 603.2V651.3M752.24 603.2V651.3M755.78 603.2V651.3M773.03 603.2V651.3M799.28 603.2V651.3M804.66 603.2V651.3M813.52 603.2V651.3M816.8 603.2V651.3M824.95 603.2V651.3M829.69 603.2V651.3M833.56 603.2V651.3M837.26 603.2V651.3M842.11 603.2V651.3M854.09 603.2V651.3M860.58 603.2V651.3M867.42 603.2V651.3M872.65 603.2V651.3M878.94 603.2V651.3M882.32 603.2V651.3M885.67 603.2V651.3M889.91 603.2V651.3M896.99 603.2V651.3M902.56 603.2V651.3M907.44 603.2V651.3M913.95 603.2V651.3M924.47 603.2V651.3M939.43 603.2V651.3M943.9 603.2V651.3M976.85 603.2V651.3M985.73 603.2V651.3M989.44 603.2V651.3M994.95 603.2V651.3M1006.4 603.2V651.3" stroke="#5a5a5a" stroke-width="0.7" fill="none"/>
<path d="M825.41 603.2V651.3M835.02 603.2V651.3M856.06 603.2V651.3M865.67 603.2V651.3M868.08 603.2V651.3M871.68 603.2V651.3M880.7 603.2V651.3M899.33 603.2V651.3M945 603.2V651.3M955.22 603.2V651.3M975.65 603.2V651.3M981.06 603.2V651.3M986.47 603.2V651.3M990.67 603.2V651.3M1007.5 603.2V651.3" stroke="#fff" stroke-width="0.8" fill="none"/>
<defs><linearGradient id="gc" x1="0" y1="0" x2="1" y2="0"><stop offset="0" stop-color="#000000"/><stop offset="0.01" stop-color="#0a0202"/><stop offset="0.02" stop-color="#5a3432"/><stop offset="0.03" stop-color="#d09a98"/><stop offset="0.04" stop-color="#ffc8c8"/><stop offset="0.1" stop-color="#ffd2ce"/><stop offset="0.16" stop-color="#ffdcd8"/><stop offset="0.29" stop-color="#ffe6e0"/><stop offset="0.43" stop-color="#f6e2dd"/><stop offset="0.51" stop-color="#ecdcd8"/><stop offset="0.57" stop-color="#f6e4de"/><stop offset="0.58" stop-color="#dcdfee"/><stop offset="0.7" stop-color="#d9dcf0"/><stop offset="0.8" stop-color="#d4d4f8"/><stop offset="0.88" stop-color="#c8c8fc"/><stop offset="0.92" stop-color="#8c8cd0"/><stop offset="0.96" stop-color="#2c2c5c"/><stop offset="0.99" stop-color="#000010"/><stop offset="1" stop-color="#000000"/></linearGradient></defs>
<rect x="642.4" y="651.3" width="370.6" height="21.4" fill="url(#gc)" stroke="none" stroke-width="1" />
<path d="M654.04 651.3V672.7M655.84 651.3V672.7M658.25 651.3V672.7M661.25 651.3V672.7M664.86 651.3V672.7M666.66 651.3V672.7M670.26 651.3V672.7M673.27 651.3V672.7M676.27 651.3V672.7M679.28 651.3V672.7M680.48 651.3V672.7M687.69 651.3V672.7M688.89 651.3V672.7M691.3 651.3V672.7M693.7 651.3V672.7M695.5 651.3V672.7M698.51 651.3V672.7M716.54 651.3V672.7M724.35 651.3V672.7M730.36 651.3V672.7M738.77 651.3V672.7M749.59 651.3V672.7M796.47 651.3V672.7M812.69 651.3V672.7M831.42 651.3V672.7M855.46 651.3V672.7M872.52 651.3V672.7M886.71 651.3V672.7M899.33 651.3V672.7M910.38 651.3V672.7M919.76 651.3V672.7M927.57 651.3V672.7M938.63 651.3V672.7M943.8 651.3V672.7M947.4 651.3V672.7M952.21 651.3V672.7M959.42 651.3V672.7M972.04 651.3V672.7M973.85 651.3V672.7M975.65 651.3V672.7M977.45 651.3V672.7M979.86 651.3V672.7M983.46 651.3V672.7M985.87 651.3V672.7M988.27 651.3V672.7M990.67 651.3V672.7M993.08 651.3V672.7M996.08 651.3V672.7M997.88 651.3V672.7M1000.29 651.3V672.7M1002.69 651.3V672.7M1005.7 651.3V672.7" stroke="#000" stroke-width="0.8" fill="none"/>
<line x1="642.4" y1="651.3" x2="1013" y2="651.3" stroke="#222" stroke-width="0.6" />
<polygon points="642.4,730 642.4,700.5 643.5,705 645,709.5 647.8,713 652,716 657,718 662.3,719.4 670,720.8 680.3,722.1 700,723.8 716.3,724.8 735,726 752.4,727.2 775,727.9 800,728.5 830,729.2 860,730 1013,730" fill="#bebebe"/>
<polygon points="1013,730 1012.7,756 1011.5,751 1010,748.5 1006,743.8 1000,740 987.5,737.5 975,735.6 950,734 925,732.6 900,731.4 875,730.4 860,730" fill="#bebebe"/>
<line x1="642.4" y1="525.5" x2="1013" y2="525.5" stroke="#000" stroke-width="1.8" stroke-dasharray="7.4 4.4"/>
<path d="M642.4 525.5L642.6 517.75L642.8 510L643 504.8L643.2 499.6L643.4 495.86L643.6 493.57L643.8 491.29L644 489L644.2 488.2L644.4 487.4L644.6 486.6L644.8 485.8L645 485L645.2 484.8L645.4 484.6L645.6 484.4L645.8 484.2L646 483.99L646.8 483.05L647.6 484.07L648.4 484.16L649.2 483.61L650 483.65L650.8 483.3L651.6 484.07L652.4 483.91L653.2 483.5L654 482.95L654.8 483.15L655.6 483.02L656.4 481.9L657.2 480.66L658 478.47L658.8 478.04L659.6 476.78L660.4 475.89L661.2 474.29L662 472.24L662.8 471.16L663.6 470.3L664.4 469.55L665.2 470.52L666 470.6L666.8 470.74L667.6 470.87L668.4 471.92L669.2 471.36L670 471.7L670.8 472.19L671.6 473.09L672.4 472.32L673.2 472.82L674 472.99L674.8 473.45L675.6 473.02L676.4 472.6L677.2 471.5L678 471.53L678.8 471.33L679.6 472.32L680.4 472.78L681.2 472.18L682 472.61L682.8 473.08L683.6 473.48L684.4 474.18L685.2 474.72L686 474.78L686.8 474.92L687.6 475.88L688.4 476.2L689.2 476.76L690 477.54L690.8 477.1L691.6 476.75L692.4 476.74L693.2 476.7L694 475.9L694.8 476.86L695.6 476.66L696.4 476.72L697.2 476.58L698 476.43L698.8 477.01L699.6 477.24L700.4 478.42L701.2 478.24L702 478.76L702.8 479.44L703.6 479.9L704.4 480.62L705.2 480.82L706 481.36L706.8 482.15L707.6 482.7L708.4 483.62L709.2 483.82L710 485.45L710.8 485.73L711.6 485.76L712.4 486.48L713.2 487.18L714 487.8L714.8 488.1L715.6 489.54L716.4 490.27L717.2 490.2L718 490.78L718.8 490.86L719.6 491.42L720.4 492.23L721.2 492.66L722 493.87L722.8 493.12L723.6 492.22L724.4 492.59L725.2 491.37L726 490.28L726.8 490.11L727.6 488.94L728.4 489.61L729.2 490.22L730 490.15L730.8 490.02L731.6 489.42L732.4 489.43L733.2 489.07L734 489.68L734.8 489.27L735.6 489.69L736.4 489.36L737.2 489.44L738 490.35L738.8 490.77L739.6 490.82L740.4 490.99L741.2 491.24L742 491.39L742.8 491.01L743.6 491.6L744.4 491.65L745.2 491.48L746 491.67L746.8 492.17L747.6 492.34L748.4 493.05L749.2 493.56L750 493.14L750.8 493.93L751.6 494.2L752.4 494.37L753.2 493.87L754 493.9L754.8 494.12L755.6 494.32L756.4 494.57L757.2 495.31L758 495.88L758.8 496.05L759.6 495.86L760.4 496.42L761.2 497.08L762 496.7L762.8 497.87L763.6 498.65L764.4 498.98L765.2 499.44L766 499.67L766.8 499.87L767.6 501.17L768.4 501.18L769.2 502.3L770 503.07L770.8 502.97L771.6 503.57L772.4 504.81L773.2 505.14L774 505.06L774.8 505.6L775.6 506.24L776.4 507.75L777.2 508.24L778 508.06L778.8 509.48L779.6 510.27L780.4 510.52L781.2 510.81L782 511.71L782.8 511.87L783.6 512.39L784.4 514.2L785.2 514.48L786 514.99L786.8 516.14L787.6 516.19L788.4 517.26L789.2 517.75L790 517.56L790.8 518.15L791.6 518.75L792.4 519.23L793.2 520.19L794 520.29L794.8 520.81L795.6 520.79L796.4 522.05L797.2 521.65L798 521.85L798.8 522.09L799.6 522.55L800.4 522.05L801.2 522.73L802 522.32L802.8 522.44L803.6 522.51L804.4 522.14L805.2 522.93L806 522.91L806.8 522.98L807.6 524.22L808.4 523.8L809.2 524.55L810 525.25L810.8 525.44L811.6 525.55L812.4 526.17L813.2 526.52L814 527.08L814.8 526.56L815.6 527.39L816.4 527.3L817.2 527.62L818 528.54L818.8 528.56L819.6 528.97L820.4 529.55L821.2 530.07L822 529.85L822.8 530.4L823.6 530.61L824.4 530.96L825.2 531.56L826 531.78L826.8 532.38L827.6 532.82L828.4 533.88L829.2 534.1L830 534.82L830.8 535.4L831.6 535.06L832.4 535.89L833.2 536.82L834 537.16L834.8 536.79L835.6 537.24L836.4 538.09L837.2 538.11L838 538.81L838.8 539.13L839.6 540.36L840.4 541.01L841.2 541.67L842 541.29L842.8 542.48L843.6 542.93L844.4 542.87L845.2 544.36L846 545.06L846.8 544.76L847.6 546.24L848.4 546.18L849.2 546.88L850 548.09L850.8 548.5L851.6 548.29L852.4 549.22L853.2 549.92L854 550.31L854.8 550.73L855.6 551.48L856.4 552.57L857.2 552.35L858 553.6L858.8 554.08L859.6 554.19L860.4 555.18L861.2 556.15L862 556.63L862.8 556.7L863.6 558.38L864.4 558.73L865.2 559.53L866 559.07L866.8 559.85L867.6 560.16L868.4 561.62L869.2 561.58L870 561.98L870.8 562.91L871.6 564.07L872.4 564.53L873.2 564.42L874 564.86L874.8 566.36L875.6 566.5L876.4 567.22L877.2 567.05L878 567.57L878.8 568.89L879.6 569.13L880.4 569.17L881.2 570.58L882 570.58L882.8 571.15L883.6 570.66L884.4 571.95L885.2 571.36L886 572.62L886.8 572.44L887.6 572.61L888.4 573.18L889.2 573.93L890 573.45L890.8 573.59L891.6 574.38L892.4 574.28L893.2 574.3L894 574.54L894.8 574.59L895.6 574.95L896.4 575.26L897.2 575.44L898 576.16L898.8 575.78L899.6 576.21L900.4 576L901.2 576.37L902 576.15L902.8 576.6L903.6 576.48L904.4 577.51L905.2 577.47L906 577.2L906.8 577.71L907.6 578.44L908.4 577.62L909.2 578.67L910 578.4L910.8 578.67L911.6 579.28L912.4 578.94L913.2 579.27L914 579.68L914.8 580.23L915.6 579.67L916.4 580.46L917.2 580.52L918 580.64L918.8 580.57L919.6 580.71L920.4 580.55L921.2 580.8L922 580.88L922.8 581.85L923.6 581.43L924.4 581.48L925.2 581.6L926 582.91L926.8 583.34L927.6 583.5L928.4 583.44L929.2 583.79L930 584.25L930.8 584.9L931.6 584.99L932.4 585.78L933.2 586.01L934 587.29L934.8 587.76L935.6 587.4L936.4 587.09L937.2 588.02L938 587.29L938.8 587.4L939.6 587.03L940.4 587.54L941.2 587.71L942 587.8L942.8 587.41L943.6 587.75L944.4 587.12L945.2 587.4L946 587.16L946.8 587.5L947.6 587.04L948.4 586.99L949.2 587.3L950 587.18L950.8 587.84L951.6 588.02L952.4 588.52L953.2 588.65L954 588.96L954.8 589.39L955.6 588.99L956.4 589.07L957.2 590.02L958 589.18L958.8 590.03L959.6 590.09L960.4 589.59L961.2 590.8L962 591.14L962.8 591.09L963.6 591.48L964.4 591.84L965.2 591.3L966 592.03L966.8 592.31L967.6 593.02L968.4 593.29L969.2 593.62L970 593.64L970.8 594.32L971.6 594.37L972.4 594.69L973.2 593.68L974 592.87L974.8 592.42L975.6 592.12L976.4 591.3L977.2 591.71L978 590.92L978.8 590.54L979.6 590.08L980.4 590L981.2 589.93L982 589.5L982.8 590.62L983.6 590.72L984.4 590.5L985.2 590.54L986 590.69L986.8 589.98L987.6 590.74L988.4 589.82L989.2 589.26L990 589.15L990.8 589.36L991.6 588.24L992.4 588.34L993.2 588.09L994 586.97L994.8 586.29L995.6 585.21L996.4 584.05L997.2 582.73L998 581.14L998.8 579.37L999.6 576.89L1000.4 575.74L1001.2 575.2L1002 575.13L1002.8 573.93L1003.6 573.48L1004.4 572.01L1005.2 570.87L1006 568.72L1006.8 566.81L1007.6 564.23L1007.8 563.54L1008 562.42L1008.2 562.02L1008.4 561.29L1008.6 560.63L1008.8 559.54L1009 558.81L1009.2 556.67L1009.4 555L1009.6 553.33L1009.8 551.67L1010 550L1010.2 548L1010.4 546L1010.6 544L1010.8 542L1011 540L1011.2 538L1011.4 536.25L1011.6 534.5L1011.8 532.75L1012 531L1012.2 529.5L1012.4 528L1012.6 526.5" stroke="#0b600b" stroke-width="2" fill="none" stroke-linejoin="round"/>
<rect x="642.4" y="448" width="370.6" height="325.3" fill="none" stroke="#000" stroke-width="1.6" />
<text font-size="24.6" text-anchor="middle" transform="translate(837.5 473.5) scale(1 1)">Gene set length: 541</text>
<text font-size="24.8" transform="translate(657.3 554.5) scale(1 1)">NES: -1.056</text>
<text font-size="24.8" transform="translate(657.3 583.6) scale(1 1)">p: 0.219</text>
<text font-size="27.8" font-weight="bold" fill="#e3262c" transform="translate(704.3 702.3) scale(1 1.04)">c13</text>
<text font-size="27.8" font-weight="bold" fill="#3d68df" transform="translate(900.8 702.2) scale(1 1.04)">Arm</text>
<line x1="639.4" y1="466" x2="642.4" y2="466" stroke="#000" stroke-width="1.2" />
<text font-size="22" text-anchor="end" transform="translate(628.8 473.6) scale(1.14 1)">0.2</text>
<line x1="639.4" y1="495.95" x2="642.4" y2="495.95" stroke="#000" stroke-width="1.2" />
<text font-size="22" text-anchor="end" transform="translate(628.8 503.55) scale(1.14 1)">0.1</text>
<line x1="639.4" y1="525.9" x2="642.4" y2="525.9" stroke="#000" stroke-width="1.2" />
<text font-size="22" text-anchor="end" transform="translate(628.8 533.5) scale(1.14 1)">0.0</text>
<line x1="639.4" y1="555.85" x2="642.4" y2="555.85" stroke="#000" stroke-width="1.2" />
<text font-size="22" text-anchor="end" transform="translate(628.8 563.45) scale(1.14 1)">-0.1</text>
<line x1="639.4" y1="585.8" x2="642.4" y2="585.8" stroke="#000" stroke-width="1.2" />
<text font-size="22" text-anchor="end" transform="translate(628.8 593.4) scale(1.14 1)">-0.2</text>
<line x1="639.4" y1="684.6" x2="642.4" y2="684.6" stroke="#000" stroke-width="1.2" />
<text font-size="28.5" text-anchor="end" transform="translate(627.3 694.8) scale(0.89 1)">10</text>
<line x1="639.4" y1="707.3" x2="642.4" y2="707.3" stroke="#000" stroke-width="1.2" />
<text font-size="28.5" text-anchor="end" transform="translate(627.3 717.5) scale(0.89 1)">5</text>
<line x1="639.4" y1="730" x2="642.4" y2="730" stroke="#000" stroke-width="1.2" />
<text font-size="28.5" text-anchor="end" transform="translate(627.3 740.2) scale(0.89 1)">0</text>
<line x1="639.4" y1="752.7" x2="642.4" y2="752.7" stroke="#000" stroke-width="1.2" />
<text font-size="28.5" text-anchor="end" transform="translate(627.3 762.9) scale(0.89 1)">-5</text>
<line x1="768" y1="773.3" x2="768" y2="775.9" stroke="#000" stroke-width="1.2" />
<text font-size="24.8" text-anchor="middle" transform="translate(768.2 798.9) scale(1 1)">10000</text>
<line x1="896.3" y1="773.3" x2="896.3" y2="775.9" stroke="#000" stroke-width="1.2" />
<text font-size="24.8" text-anchor="middle" transform="translate(896.5 798.9) scale(1 1)">20000</text>
<text font-size="25" text-anchor="middle" transform="translate(829 822) scale(1 1)">Rank in ordered dataset</text>
<text transform="translate(542.4 523.2) rotate(-90)" font-size="25.2" text-anchor="middle">Enrichment</text>
<text transform="translate(571.2 523.8) rotate(-90)" font-size="25.2" text-anchor="middle">Score</text>
<text transform="translate(547.8 710) rotate(-90)" font-size="24.6" text-anchor="middle">Ranked list</text>
<text transform="translate(577.5 698.7) rotate(-90)" font-size="24.6" text-anchor="middle">metric</text>
</g>
<g id="panel-d">
<text font-size="32.5" font-weight="bold" transform="translate(1043.3 464.8) scale(1 1)">d</text>
<path d="M1208.8 592h0M1204 659.9h0M1179.4 584h0M1169 555.5h0M1176.9 596.1h0M1177.4 641.8h0M1166.7 592.6h0M1183.4 641.8h0M1164.2 550.6h0M1209.3 636.3h0M1168.8 569.1h0M1212.1 549.3h0M1157.9 556.1h0M1155.4 569.2h0M1156.6 604.3h0M1162.6 586.4h0M1212.2 606.1h0M1184.4 543.5h0M1166.3 643.4h0M1198.6 568.5h0M1205.5 560.3h0M1155.2 565h0M1185.6 636.8h0M1214.2 626.6h0M1210 559.1h0M1184.9 614.7h0M1176.4 593.5h0M1197.3 632.8h0M1194.4 551.2h0M1193.8 560h0M1202.1 549.6h0M1215.5 547.2h0M1199.8 574.4h0M1199.8 557h0M1154.1 591.7h0M1171 582.6h0M1161.9 616.1h0M1191.4 661.4h0M1203.6 650.5h0M1190.3 649.1h0M1181.4 588.1h0M1192 625.9h0M1157.7 575.9h0M1186.1 558.6h0M1153.8 582.9h0M1159.5 608.6h0M1185.9 608.1h0M1178.7 574.1h0M1173.1 584h0M1162.8 640.3h0M1194.6 602.7h0M1198.4 589.5h0M1197.3 598.4h0M1173.9 634.9h0M1167 627.5h0M1165.1 588.1h0M1209.9 539.2h0M1161.7 578.2h0M1203.8 581.1h0M1215 654.3h0M1182.9 657.4h0M1187.2 571.8h0M1163.6 647.4h0M1169.9 646.9h0M1160.8 635.1h0M1183 592.4h0M1203.1 575.3h0M1168.2 594.8h0M1188.6 585.4h0M1160.8 626.5h0M1198.2 666.3h0M1180.3 665.3h0M1183.4 557.5h0M1186.5 644.9h0M1170.6 566.3h0M1171.5 572.8h0M1155 572.9h0M1161.5 574.1h0M1191.3 582.3h0M1166.2 559.7h0M1175 653.6h0M1191.8 632.1h0M1154.1 614.4h0M1184.1 660.6h0M1150.6 645.6h0M1167.5 600.5h0M1180.3 610.7h0M1154.3 603.9h0M1172.5 588h0M1171.8 622.3h0M1202.5 559.9h0M1175.3 588.9h0M1183.2 590h0M1215.5 595.8h0M1183 617.1h0M1165.3 577.4h0M1164.5 597.4h0M1164 545.7h0M1197.6 558.8h0M1176 631.5h0M1196.6 630.1h0M1201.2 561.7h0M1171.7 555.8h0M1175.3 576.2h0M1215.7 570.2h0M1190.5 615.9h0M1166.2 633.6h0M1188.1 554.4h0M1212.8 652.8h0M1179 647.3h0M1169.4 643h0M1162.1 605.3h0M1179.6 614.9h0M1184.1 595.4h0M1154.6 617.4h0M1188.1 596h0M1155.1 561.3h0M1174.6 666.8h0M1177.8 605.5h0M1205.5 620.8h0M1204.9 662.3h0M1180.7 603.3h0M1177.2 626.2h0M1177.5 586.8h0M1183.1 577.4h0M1175.3 628.1h0M1199 629.9h0M1164 609.5h0M1176.4 637h0M1173.3 650.4h0M1189.5 592.9h0M1185.4 593.5h0M1201.4 596.4h0M1190.7 645.1h0M1201 628.5h0M1207 602.7h0M1178.7 543.9h0M1193 630h0M1203 606.9h0M1188 609h0M1195 578h0M1153 621.8h0M1195.2 553.5h0M1193.9 655.2h0M1172.1 653.1h0M1184.6 574.2h0M1196.6 625.4h0M1202.4 531.4h0M1204.2 556.3h0M1202.1 584.1h0M1212.2 599.4h0M1213 644.7h0M1179 651.8h0M1172.5 558.7h0M1165.6 594.8h0M1171.8 606.7h0M1155.2 623h0M1168.4 577.6h0M1190 629.2h0M1198.1 544.2h0M1169.7 602.5h0M1202.7 657.6h0M1212.1 641.7h0M1208.4 623.9h0M1192.3 595.7h0M1170.5 619.4h0M1162.2 552.7h0M1168.6 652.8h0M1191.2 584.8h0M1170.4 658.3h0M1156.8 633h0M1182.7 648.6h0M1174.4 658.5h0M1216.1 582.7h0M1170.9 551.8h0M1208.3 610.9h0M1164.4 619.6h0M1162 631.8h0M1196.8 657.3h0M1191.8 555.2h0M1195.2 574.1h0M1181.7 646.4h0M1206.4 555.4h0M1188.9 636.1h0M1159.5 593.6h0M1202 619.4h0M1168.3 611.1h0M1192.4 618.7h0M1185.3 648.1h0M1200 581.8h0M1157.2 572.5h0M1171.9 569.3h0M1177.9 612.8h0M1192.7 575.7h0M1170.4 667.1h0M1156 608.7h0M1173.8 641.3h0M1187.8 618.3h0M1212.6 583.4h0M1169.6 580.7h0M1159.4 578.2h0M1213 673.7h0M1209.4 577.5h0M1175.5 548.8h0M1169.4 638.2h0M1169.7 592.6h0M1197.8 672.3h0M1179.5 623.6h0M1188.1 648.2h0M1152 553.3h0M1205 548.4h0M1189.2 613.6h0M1164.9 571.2h0M1156.3 619.9h0M1186.8 544h0M1216.3 550h0M1200.7 612.8h0M1172.8 638.7h0M1199.6 565.7h0M1186 658.6h0M1192.2 643.1h0M1185.2 585.5h0M1168.9 631h0M1187 656.2h0M1189.8 578.2h0M1170.2 599.9h0M1212.7 629.7h0M1209.4 642.7h0M1189.6 601.2h0M1155.6 600.2h0M1212.1 571.9h0M1173.2 629h0M1207.1 595.8h0M1206.2 593.1h0M1205.7 649.3h0M1172.7 609.3h0M1180.3 663h0M1195.2 659.5h0M1186.7 601.5h0M1201.6 590.1h0M1162.1 567.4h0M1220.7 633.4h0M1167.5 624.2h0M1221.6 546.5h0M1166.6 655h0M1212.9 560.1h0M1155.8 639.1h0M1160.8 638.4h0M1211.6 591.2h0M1155.8 589.7h0" stroke="#1f78b4" stroke-width="4.3" stroke-linecap="round" fill="none"/>
<path d="M1196.1 491.2h0M1222.8 519h0M1166 507.3h0M1174.1 522.7h0M1192.3 505.7h0M1197.1 497.9h0M1173.5 531.5h0M1220 508.2h0M1188.4 517.4h0M1161.7 500.2h0M1211.5 498.7h0M1185.2 526.6h0M1181.2 487.3h0M1172.6 541.8h0M1160.8 545.7h0M1157.7 513.1h0M1190.9 488.5h0M1213.1 500.6h0M1156.9 533.1h0M1186.8 498.9h0M1196.3 528h0M1199.4 479.1h0M1165.3 522.1h0M1198 512.7h0M1161.3 508.2h0M1172.7 505.8h0M1215.5 490.3h0M1158.4 527.1h0M1207.6 525.9h0M1179.3 501.1h0M1178.9 483.2h0M1224 516h0M1191.9 527.6h0M1183.5 480h0M1185.3 530.4h0M1186.4 485.3h0M1172.8 502.6h0M1202.2 512.3h0M1165.8 526.5h0M1176.6 494.6h0M1180.3 552.7h0M1187 506.5h0M1197.1 538.9h0M1208.7 529.5h0M1199.2 510.2h0M1188 503.7h0M1187.7 478h0M1218.5 544.1h0M1176.2 528.6h0M1173 534.6h0M1210.4 479.2h0M1172.1 496.3h0M1218.1 525.3h0M1209.4 494.3h0M1167.2 494.7h0M1203.1 543.6h0M1180 516.7h0M1186.9 536.2h0M1201.5 489.9h0M1156.5 536.2h0M1164.6 496.9h0M1168.8 552.1h0M1169.2 517.3h0M1187.4 509.9h0M1215.8 513.6h0M1194.7 500h0M1187.4 525.6h0M1164.1 512h0M1164.3 529h0M1218.9 518.6h0M1191.2 485.4h0M1205.5 519.1h0M1183.2 485h0M1222.3 525.7h0M1188 495.3h0M1208.3 519.7h0M1202.5 528.7h0M1197.8 506.3h0M1163.5 557.5h0M1176.5 510.2h0M1183.9 515.5h0M1200.9 497.4h0M1192.9 497.5h0M1195.1 523.4h0M1206.5 514.6h0M1178 496.7h0M1175.7 535.3h0M1155.7 521h0M1173 516.9h0M1188.9 520.5h0M1201.1 486.1h0M1157.4 530.7h0M1219.8 514.8h0M1183.9 541.2h0M1186.4 512.1h0M1201.5 480.3h0M1195.8 516.6h0M1193.2 541.1h0M1170 513.4h0M1212 523.9h0M1195.6 542h0M1210.5 504.2h0M1172.8 527.8h0M1214.2 485.5h0M1193.2 514.7h0M1160.3 535.4h0M1197.6 515.3h0M1181.1 535h0M1160.6 533.1h0M1150.1 550.3h0M1202 476.3h0M1221.9 522.2h0M1191.8 493.5h0M1159.5 540.5h0M1154.6 529.3h0M1188.1 488.2h0M1175.6 533h0M1195.8 477.6h0M1179 491.2h0M1211.1 476h0M1177.9 538.7h0M1199.1 495.9h0M1169.1 503.6h0M1170.7 540.2h0M1199.6 533h0M1193.5 536.5h0M1188.3 481.4h0M1209.9 542.3h0M1209 497h0M1199 526.9h0M1154.8 512.5h0M1191.2 519.7h0M1159.9 503.3h0M1164.7 504.3h0M1161.2 511.4h0M1160.7 520.4h0M1210.4 536.3h0M1218.4 502.1h0M1166 499.2h0M1179 488.7h0M1162.7 531.7h0M1199.2 536.8h0M1194.7 532.1h0M1169.8 522.6h0M1225.8 521.7h0M1159.7 551.3h0M1189.6 522.7h0M1166.9 540.8h0M1190.3 538h0M1219.7 512.1h0M1173.4 485.8h0M1170.9 525.2h0M1197.3 481.6h0M1166.9 519.6h0M1167 514.7h0M1207 510.1h0M1187 515.4h0M1208.9 533.3h0M1162.3 523.6h0M1208.9 481.5h0M1196.1 519.5h0M1163.2 516.6h0M1216.4 492.4h0M1175.2 545.9h0" stroke="#33a02c" stroke-width="4.3" stroke-linecap="round" fill="none"/>
<path d="M1258.5 604.9h0M1282.1 601.5h0M1239.7 581h0M1220.8 570.5h0M1276.8 578.7h0M1276.7 537.3h0M1280.1 552.7h0M1240.5 612.1h0M1271.4 532h0M1250.9 545.1h0M1237.2 539.6h0M1214.5 598.1h0M1287.4 539.4h0M1276.9 540.8h0M1231.6 551.6h0M1255.2 551.4h0M1244.4 514.3h0M1276.5 561.7h0M1284.7 560h0M1260.8 595.3h0M1310.7 608.9h0M1237.6 518.6h0M1302.7 592.4h0M1234.7 552.7h0M1313 583h0M1258.9 535.8h0M1223.6 564.7h0M1264.7 594.3h0M1252.2 563.2h0M1291.4 604h0M1231.3 582.7h0M1252.9 533.2h0M1234.6 565.5h0M1241.1 559.1h0M1231.1 577h0M1286.4 543.7h0M1234 593.9h0M1281 540.5h0M1216.7 558.7h0M1294.7 587.8h0M1256.5 561.2h0M1224.2 593h0M1276 548.9h0M1281.1 546.2h0M1289 556.3h0M1292.1 574h0M1272.8 523.7h0M1256.7 537.9h0M1285.7 548.9h0M1273.2 574.6h0M1288.2 606.7h0M1262 534.8h0M1277.8 559.9h0M1279.4 529.4h0M1227.1 563.9h0M1283.5 554.4h0M1253 558.6h0M1259.9 601h0M1270.6 587.6h0M1250.6 523.3h0M1221.2 562.5h0M1289 584.3h0M1285 602.5h0M1235 520.5h0M1251.3 529.6h0M1266.7 608.8h0M1265.9 533.7h0M1219.1 567.9h0M1209.9 562.2h0M1284.4 569.9h0M1235.3 600.8h0M1308 594.9h0M1262.7 559.7h0M1241.2 590.1h0M1263.6 611.4h0M1228 530.9h0M1217.5 589.9h0M1240.5 555.1h0M1282 548.7h0M1205 573.1h0M1237.8 604.8h0M1299.2 585.1h0M1284.7 577.8h0M1276.4 555.7h0M1240.4 594.7h0M1254.3 588.5h0M1295.7 572.6h0M1247.7 522.8h0M1242.9 556.2h0M1266.8 547.7h0M1255.8 533.8h0M1266.3 597.4h0M1283.1 556.6h0M1267 571.9h0M1212.8 553.6h0M1272.3 551.4h0M1243.2 544.4h0M1229.1 601.2h0M1298 552.2h0M1219 608.6h0M1283.3 572.4h0M1293.9 548h0M1282.6 560.5h0M1246 604.2h0M1248.4 537.1h0M1209.9 572.1h0M1262.3 590.1h0M1261.3 569.1h0M1241.4 579h0M1271.6 548.5h0M1285.2 538.4h0M1228.6 583.5h0M1301.7 581.8h0M1249.9 598.7h0M1246.1 526.4h0M1235.8 605.9h0M1254.8 583.5h0M1233.6 596.4h0M1254.7 591.4h0M1235 539.5h0M1219.9 536.6h0M1216.2 541.5h0M1258.5 595.4h0M1281 571.3h0M1270.1 606.2h0M1246.6 547.7h0M1248.7 531.7h0M1236.4 589.4h0M1310.2 579.5h0M1244.2 565.7h0M1230 553.8h0M1265.9 579.6h0M1223.7 590.3h0M1261.4 611.8h0M1300.6 556.3h0M1222 595.2h0M1231.2 599.6h0M1239.6 538.1h0M1273.1 557.9h0M1286.2 572.6h0M1252.3 511.2h0M1270.2 550.5h0M1276.5 584.1h0M1216.9 567.6h0M1283.3 609h0M1262.2 525.3h0M1213.1 562.7h0M1252.2 584.2h0M1275 521.5h0M1279.1 590.1h0M1274.9 598.4h0M1223.3 601.5h0M1300.5 591.3h0M1279.5 593.7h0M1305.1 592.2h0M1258.1 522.7h0M1251.9 519.4h0M1289.3 561h0M1290.6 549.2h0M1245.7 614.3h0M1251.7 604.8h0M1250.1 589h0M1277.9 601.2h0M1271.7 595.5h0M1240.6 566.2h0M1308.3 600.7h0M1261.9 517.1h0M1268.2 579.4h0M1288.2 548.8h0M1308.4 597.3h0M1220.5 591.8h0M1245.2 518.6h0M1258.5 577.8h0M1228.2 545.9h0M1245.3 522.6h0M1302.1 609.3h0M1221.6 538.8h0M1233 562h0M1226.5 542.1h0M1305 572.8h0M1261.2 542.1h0M1223.6 599.3h0M1232 528.3h0M1280.7 610.1h0M1283.5 591.2h0M1273 588.6h0M1295.3 591.5h0M1237 583.2h0M1218.3 584.6h0M1217.7 573.4h0M1281.8 574h0M1243.9 576.1h0M1271.2 590.9h0M1240 571.1h0M1294.8 584.9h0M1249.1 569.9h0M1268.6 533.3h0M1257.4 609.5h0M1315.2 600.4h0M1217.6 553.2h0M1282.6 595.6h0M1279.3 579.3h0M1277.3 592.7h0M1272.9 563.6h0M1241.5 526.6h0M1255.2 599h0M1275 551.6h0M1238.1 566.8h0M1295.9 563.3h0M1227.9 575.9h0M1286.1 551.7h0M1231.4 602.3h0M1269.8 574.1h0M1275.6 568.4h0M1289.3 567.3h0M1259.3 561.6h0M1219.4 564.4h0M1272.4 597.7h0M1275.7 526.4h0M1253.9 570.8h0M1263.7 600.8h0M1268 550.9h0M1259.9 528.8h0M1222.1 550.1h0M1270.4 601.3h0M1222.4 608.9h0M1297 585.7h0M1238 586.1h0M1255.2 511h0M1290.8 541.8h0M1245.9 577.7h0M1218.2 597.1h0M1263.2 580.4h0M1246.6 609.5h0M1311 589.1h0M1231.7 556.3h0M1300.1 567.3h0M1256.3 594.3h0M1221.5 542.5h0M1213.7 577.3h0M1312 592.7h0M1276.9 570.8h0M1228.1 597.2h0M1297.6 573.9h0M1243.3 587.6h0M1230.4 572.9h0M1246.9 550.9h0M1289.5 570.1h0M1292.7 599.7h0M1246.2 589.5h0M1230.3 564.8h0M1226.6 567.2h0M1223.9 532.8h0M1259.6 552.6h0M1280.4 555.7h0M1256 596.8h0M1243.8 604.5h0M1266.5 521.9h0M1275.1 546.8h0M1294.4 556.7h0M1225.9 549.2h0M1251.2 579.8h0M1259.6 547.8h0M1245.3 595h0M1287.3 587.7h0M1264.8 555.4h0M1279.5 583.8h0M1258.6 533.4h0M1222.5 572.3h0M1271.7 541.8h0M1270.4 517.5h0M1275.4 534.7h0M1221.3 527.7h0M1235 570.8h0M1249.2 584h0M1267.4 575.1h0M1300.6 553.8h0M1221.6 533.3h0M1218.9 561.4h0M1237.7 613.7h0M1231.2 595.8h0M1207.6 563.2h0M1267.9 595h0M1300.1 595.2h0M1257.5 564h0M1246.4 574.8h0M1265.4 536.4h0M1308.5 570.1h0M1255.7 578.1h0M1294.3 559.5h0M1227.3 552.4h0M1280 562.7h0M1286.9 558.2h0M1286 596.8h0M1301.9 568.9h0M1285.5 611.1h0M1304.6 582.4h0M1265.1 531h0M1262.1 538.5h0" stroke="#a6cee3" stroke-width="4.3" stroke-linecap="round" fill="none"/>
<path d="M1266.8 716.4h0M1221.9 651.7h0M1195.3 681.6h0M1280.4 710.9h0M1241.3 732.1h0M1214.4 698.7h0M1218 689.9h0M1211.5 706.7h0M1227.6 727h0M1177.1 661.4h0M1193.8 699.8h0M1203.2 663.8h0M1225.8 716.3h0M1171.2 672.8h0M1191.7 682.5h0M1230.5 670.4h0M1222.7 653.8h0M1278.4 699.5h0M1258.8 706.2h0M1219.7 656.1h0M1282 690.9h0M1260.1 697.2h0M1263.5 689.9h0M1255.6 711.2h0M1269.8 707.8h0M1275.8 700.6h0M1241.3 712.9h0M1291.2 697.1h0M1237.5 719.8h0M1238.8 687.2h0M1225.6 676h0M1250.3 724.8h0M1271.4 703.8h0M1284.2 713.5h0M1254.5 685.5h0M1201.3 704.5h0M1184 692.4h0M1288.5 693h0M1221 675h0M1293.8 688.8h0M1270.5 728.4h0M1262.8 705.7h0M1260 730.1h0M1182.1 683.8h0M1272.5 697.9h0M1250.3 711.9h0M1277.6 704.3h0M1266 729.1h0M1194.2 673h0M1262.2 716.5h0M1237 708.5h0M1206.2 695.7h0M1225.4 670.7h0M1263 701.2h0M1266.7 705.2h0M1259.3 693.8h0M1223.5 698.6h0M1240.8 709.6h0M1233.6 711.6h0M1201.4 700.4h0M1243.7 688.9h0M1231.3 691.8h0M1239.9 727.1h0M1245.4 682.8h0M1216.1 669h0M1290.9 699.5h0M1227.9 697.7h0M1232.5 708.2h0M1201.9 682.5h0M1246.6 674.4h0M1237.5 704.3h0M1286.1 704.7h0M1280.9 702.1h0M1194.4 684.5h0M1224.5 682.7h0M1250 730.3h0M1219.4 705.5h0M1251.2 705.2h0M1219.2 693.9h0M1233 715.1h0M1212.2 710.3h0M1266.6 720.1h0M1215.6 681.8h0M1178.7 659.9h0M1256.7 721.9h0M1272.6 701.1h0M1173.7 661.2h0M1238.4 701.4h0M1229.3 709.5h0M1272.2 718.7h0M1195.5 688.8h0M1241.4 723.7h0M1258.3 691.4h0M1207.3 676.9h0M1255.8 674.8h0M1248.4 703.6h0M1223.7 658.5h0M1267.1 709.2h0M1217.4 675.6h0M1259.9 712.4h0M1237 678.7h0M1214.3 677h0M1276.2 689.3h0M1272.9 695.4h0M1238.6 693.6h0M1194.3 694.6h0M1212.1 662.6h0M1219 660.1h0M1249 700.6h0M1225.3 712.3h0M1275.2 713.3h0M1238.5 713.6h0M1210.9 676h0M1219.1 663.3h0M1248.8 679h0M1190.3 678.9h0M1215.1 672.3h0M1223.6 690.5h0M1265.4 700.2h0M1228.8 702h0M1226.9 679.4h0M1242.8 710.4h0M1246.8 685.7h0M1231.6 703.3h0M1217.5 683.5h0M1186.6 662.1h0M1244.2 673.1h0M1180.7 681.2h0M1243.3 708.2h0M1218.9 665.5h0M1246.2 715.3h0M1231.1 683.3h0M1215.4 696.4h0M1247.8 710.7h0M1209.5 692.4h0M1183.8 672.3h0M1249.7 716h0M1206 668.9h0M1271.5 706.3h0M1250.4 682.6h0M1268 727.5h0M1283.7 717.4h0M1253.2 718h0M1225.6 651.8h0M1205.2 683h0M1257.6 719.6h0M1167.6 657.5h0M1269.2 714.9h0M1256.8 698.7h0M1181.2 668.9h0M1253.1 730.5h0M1212 659.7h0M1238.3 666.4h0M1227.9 675.3h0M1209 709.3h0M1226 693.4h0M1280.2 719.4h0M1243.7 731.2h0M1285.6 692.4h0M1216.9 661.2h0M1301.5 690.2h0M1246 690.4h0M1221.2 699.2h0M1276.9 687h0M1240.3 696.4h0M1246.2 703.4h0M1210.1 673.4h0M1257.9 726.1h0M1271.1 709.5h0M1260 720.2h0M1224.4 723.2h0M1191.1 664.5h0M1290.4 691.7h0M1196.4 676.6h0M1222.2 687.4h0M1250.8 720.4h0M1214.5 660h0M1178.6 654.3h0M1199.2 700.1h0M1245.6 694.2h0M1204.5 675h0M1228.8 686.3h0M1223.7 678.8h0M1273.7 693.1h0M1236.6 729.1h0M1220.5 667.5h0M1251.5 702.9h0M1180.2 657.7h0M1262.7 729.6h0M1161.3 663.8h0M1273.1 682.5h0M1257.2 713.9h0M1243.5 695.3h0M1285.9 702.3h0M1300.7 694.8h0M1298.9 704.2h0" stroke="#b2df8a" stroke-width="4.3" stroke-linecap="round" fill="none"/>
<path d="M1297.5 636.1h0M1291.1 633.8h0M1314.8 622.5h0M1280.2 675h0M1268.6 612.3h0M1299.9 630.2h0M1268.4 685.8h0M1284.3 647.2h0M1260.2 655.4h0M1287.3 638.5h0M1281.7 623.1h0M1297.8 678.8h0M1283.9 652.1h0M1286 624.4h0M1293.3 698h0M1267.7 619.5h0M1287 609.4h0M1295.9 660.9h0M1279.3 682.2h0M1273.7 629.2h0M1315.4 642.3h0M1249.1 659.6h0M1301.4 613.4h0M1292.1 653.2h0M1311.8 612.5h0M1292.4 684h0M1254.8 672.2h0M1253.8 663.6h0M1260.1 645.3h0M1281.6 632.6h0M1281.7 662.4h0M1262.8 672.8h0M1302.3 604.3h0M1257.3 632.7h0M1291.9 630h0M1292.9 679.9h0M1294.9 625.5h0M1305.2 623.2h0M1285.3 687.5h0M1273 646.8h0M1308.6 629.4h0M1301.5 627.8h0M1305.8 648h0M1266.2 658.7h0M1317.1 612.4h0M1244.8 649.9h0M1265.8 612.9h0M1271.5 651.5h0M1286.7 650h0M1260.4 669.8h0M1254 614.2h0M1296.1 641.3h0M1261.7 684.5h0M1279.5 642.4h0M1293.2 694.7h0M1259.9 624.1h0M1304.1 671.1h0M1250.2 668h0M1290.9 612.9h0M1260.3 665.9h0M1283.7 677.9h0M1271.4 617.3h0M1268.8 672h0M1276 683.8h0M1269.8 661.3h0M1297 644.5h0M1309 663.6h0M1300.8 625.1h0M1294.5 668h0M1266.3 621.3h0M1286.7 616.5h0M1273.7 617h0M1268.9 635.8h0M1287.9 674.4h0M1247.5 670.5h0M1311.1 635.3h0M1261.7 648.5h0M1262.6 637.8h0M1271.3 676.5h0M1252.9 639.8h0M1269 627.7h0M1254.8 657.8h0M1262.4 664.2h0M1300.4 671.4h0M1267.8 644.9h0M1311.4 664.8h0M1283.4 671.3h0M1307.2 645.7h0M1301.8 646.3h0M1287.2 600.9h0M1263.4 651.7h0M1291.3 615.5h0M1291.8 646.9h0M1302.6 596h0M1265.1 668.6h0M1286.2 669h0M1282.5 626.2h0M1284.7 619.9h0M1289.1 620.2h0M1292.6 638.1h0M1254.5 644.4h0M1285.8 643h0M1280.8 650.4h0M1267.5 679h0M1309 606.5h0M1303.5 643.9h0M1274.4 662h0M1276 637h0M1301.2 674.5h0M1253.9 660h0M1272.1 679.4h0M1257.1 678.9h0M1296.9 672.1h0M1267.5 616.1h0M1290.2 682h0M1299.7 634.3h0M1304.7 635.9h0M1271.4 623.3h0M1313.3 630.8h0M1287.1 632.6h0M1262.5 660.2h0M1270.3 656.7h0M1277.2 622.1h0M1271.6 672.7h0M1291.8 659.6h0M1316.1 620.2h0M1268.2 664.2h0M1308.9 667h0M1274.7 644.9h0M1281.3 671.9h0M1275.7 625.2h0M1273.9 638.3h0M1291.5 650.9h0M1278.5 672.2h0M1272 664.3h0M1292.6 623h0M1288.3 670.4h0M1260.2 678.3h0M1265.1 629.5h0M1295.8 607.5h0M1300.1 676.5h0M1267.6 633.6h0M1286.4 680h0M1316.3 626.6h0M1281.1 680h0M1262.6 633.6h0M1257.5 638.5h0M1297.6 631.8h0M1295.8 680.2h0M1296.5 689.3h0M1264.3 624.6h0M1311.9 627.8h0M1269.4 667.2h0M1285.9 630.3h0M1296.1 610.7h0M1259.1 653.2h0M1307.2 622.1h0M1309.5 637.8h0M1289.4 643.2h0M1292.7 686.5h0M1304.4 640h0M1290.6 627.3h0M1281.6 615.5h0M1306.9 634.4h0M1303.8 649.1h0M1300.2 618h0M1316.3 608.3h0M1314 615h0M1301.1 681.1h0M1254.2 629.3h0M1302.2 641.2h0M1284 628.1h0M1269 625h0M1310.3 645.4h0M1273.3 653.4h0M1289.4 617.4h0M1265.8 651.1h0M1262.8 629.3h0M1276.1 640.6h0M1282.9 673.5h0M1286.1 622.1h0M1290.4 678.8h0M1296.2 618.6h0M1270.9 611h0M1288 611.6h0M1314.8 645.2h0M1294.4 646.6h0" stroke="#fb9a99" stroke-width="4.3" stroke-linecap="round" fill="none"/>
<path d="M1416 690.6h0M1397.1 701.7h0M1428.3 696.1h0M1409.4 696.2h0M1404.8 721.8h0M1400.2 683.4h0M1431.9 711.5h0M1414.8 692.4h0M1422.5 708.6h0M1410.6 677h0M1402.7 680.5h0M1405.6 710.6h0M1416.2 684.1h0M1413 682.9h0M1413.6 699.6h0M1399.6 697.5h0M1400.7 679.2h0M1405.3 728.1h0M1418.6 688.7h0M1421.9 689.6h0M1423.7 688.9h0M1397.7 694.4h0M1431.7 706.3h0M1414 687.9h0M1403.8 696.2h0M1419.8 705.3h0M1415.6 699.1h0M1408.2 710.8h0M1409.5 691.9h0M1406.5 697.7h0M1423 704.3h0M1402.5 689.2h0M1426.3 705.6h0M1410.2 722.2h0M1397.8 684.1h0M1406.8 725.7h0M1423.4 694.1h0M1425.8 714.6h0M1406.4 704.2h0M1424.9 706.8h0M1400.9 706.8h0M1408.5 718.4h0M1427.7 711.3h0M1421 695.8h0M1413.5 680.6h0M1419.9 690h0M1401.2 694.3h0M1418.1 706.1h0M1398.8 701.2h0M1400.9 719.8h0M1408.3 727.1h0M1415.3 721.4h0M1408 689.5h0M1426 687.5h0M1419.6 680.4h0M1433 702.5h0M1429 688.8h0M1405.2 724.1h0M1413 717.3h0M1408.2 713.3h0M1420.2 717.2h0M1425 709.1h0M1407 682.7h0M1411.5 709.3h0M1400 717.5h0M1396.6 706.4h0M1420.7 708.8h0M1410.2 680h0M1406.4 685.7h0M1429.9 696.2h0M1416.3 712.1h0M1407.8 720h0M1412.8 701.6h0M1421.1 684.2h0M1411.7 696.5h0M1425.6 696.7h0M1412.1 687h0M1419 699.4h0M1404.4 683.5h0M1412.8 690.8h0M1404.1 689.8h0M1415.1 710.3h0M1398.6 713.8h0M1431.2 698.5h0M1401.1 714.3h0M1426.4 699.7h0M1400.8 690h0M1416.5 677.2h0M1420.4 712.2h0M1422.2 700.8h0M1403.2 720.7h0M1379.5 678.1h0M1394.9 700.7h0M1369.5 680.8h0M1375.3 698.8h0M1395.1 680.5h0M1381.2 687.2h0M1382.6 681.3h0M1367.1 685.6h0M1366.4 695.3h0M1383.3 702.2h0M1367.3 678.4h0M1370.8 673.5h0M1364.6 687.6h0M1373.1 690.7h0M1384.2 681.5h0M1373.5 687.7h0M1394.6 691.9h0M1368.5 690.7h0M1390.3 685.8h0M1361.1 693.6h0M1364.2 684.5h0M1395.6 684.9h0M1365.6 675.8h0M1376 702.2h0M1366 699.5h0M1388.8 691.2h0M1368.9 695.4h0M1368.7 684.9h0M1380.1 695.3h0M1381 675.6h0M1388.6 705.7h0M1380.8 689.6h0M1393.1 684.1h0M1370 699.3h0M1351.6 680.9h0M1332.8 634h0M1335.8 656.6h0M1354.3 675.6h0M1367.7 680.5h0M1342.8 667.7h0M1324.9 653.3h0M1319.3 642.4h0M1323.2 647.4h0M1329.8 657.2h0M1360.4 697.5h0M1357.9 688.4h0M1341.9 634.2h0M1351.8 664.1h0M1357.1 677.6h0M1363.1 681.8h0M1337.6 630.7h0M1349.4 679.4h0M1340.6 659h0M1360.1 675.9h0M1324 637.6h0M1363 692.2h0M1321.6 640.2h0M1335.7 628.4h0M1359.2 673.5h0M1331.4 623.4h0M1355.5 678h0" stroke="#fdbf6f" stroke-width="4.3" stroke-linecap="round" fill="none"/>
<path d="M1223.7 621.6h0M1225.8 647.1h0M1214.8 632.7h0M1249.5 642h0M1234.6 645.9h0M1242.9 645.3h0M1231.7 628.9h0M1217 636.8h0M1245.4 635.4h0M1235.8 634.4h0M1222.3 615.6h0M1217.3 620.8h0M1220.7 635.9h0M1257.3 623.4h0M1203.5 602.7h0M1242.8 664.6h0M1232.4 675.1h0M1251.5 627.9h0M1255.3 618.5h0M1217.4 613.1h0M1206.9 616.2h0M1238.4 659.8h0M1239.1 638.5h0M1239.7 670.8h0M1249.1 621h0M1209.3 605.2h0M1241.5 657.8h0M1227.3 605.9h0M1231.2 612.3h0M1243.3 654.8h0M1229.3 618.5h0M1236.4 638.5h0M1221.6 630.5h0M1229.8 627.4h0M1228.6 622.5h0M1254.5 609.2h0M1242.9 636h0M1247.7 639.4h0M1213.7 611.7h0M1222 623.8h0M1256.2 627.9h0M1221.9 606.7h0M1227.8 672.5h0M1228.9 629.8h0M1246.1 621.9h0M1252.2 666.8h0M1244.8 641.3h0M1211.7 610.5h0M1222.1 618.7h0M1223.3 649.9h0M1246.8 642.6h0M1215.3 635.2h0M1236.5 624.8h0M1233.2 650.3h0M1247.7 630.9h0M1215.1 619.8h0M1217.3 606.3h0M1243.1 652.1h0M1231.9 662.5h0M1224.6 664.5h0M1236.3 654.6h0M1238.3 618.9h0M1208.1 633.6h0M1232.5 637.8h0M1230.4 650.8h0M1246.3 648.3h0M1213.4 624.4h0M1235.6 630.9h0M1224.6 614.3h0M1230.2 631.8h0M1222 611.8h0M1221.4 639.8h0M1242.8 616h0M1233.1 648.1h0M1251.1 651.2h0M1226.6 654.9h0M1231.3 617.5h0M1243.4 621.2h0M1248.9 663.2h0M1228.4 643.6h0M1200.8 599.4h0M1234 602.7h0M1220.1 649.4h0M1226 616.1h0M1229.5 604.9h0M1229.8 656.5h0M1230.4 614.6h0M1239.3 657.4h0M1237.3 642.8h0M1214.7 639.2h0M1229.7 666h0M1205.8 611.4h0M1233.8 641.6h0" stroke="#ff7f00" stroke-width="4.3" stroke-linecap="round" fill="none"/>
<path d="M1178.8 719.1h0M1175.1 671.6h0M1193.4 715.4h0M1215.6 715.9h0M1159.4 657.1h0M1155.4 656.5h0M1183.2 726.2h0M1160.9 644.4h0M1158.8 684.3h0M1215.7 724.8h0M1204.4 701h0M1150.2 684.9h0M1163.4 670.7h0M1165.4 669.9h0M1167.7 691.4h0M1215.4 712.3h0M1190.4 722.1h0M1171.9 691.5h0M1176.5 734.2h0M1188.5 708.7h0M1155.4 678.1h0M1176.9 674.3h0M1153.9 660.8h0M1209.8 728.5h0M1185.1 697.2h0M1227.9 723.8h0M1164.9 701.2h0M1210.5 716.2h0M1161.8 708.8h0M1176.3 696.2h0M1216.9 729.4h0M1203.4 737.9h0M1174.9 712.9h0M1182.2 712.5h0M1202.6 734.3h0M1168.8 702.9h0M1151.7 652.9h0M1149.6 702.6h0M1228.8 729.9h0M1208.7 721.2h0M1153.2 709.6h0M1158.3 701.5h0M1174.4 725.4h0M1167.3 700.3h0M1149.6 642.5h0M1220.7 712.6h0M1165.8 713h0M1157.8 661.6h0M1162.4 728.5h0M1174.3 689.8h0M1157 695.1h0M1214.8 733.4h0M1157.8 711.7h0M1152.8 700.5h0M1177.2 688h0M1206.5 709.8h0M1208.9 697.2h0M1157.4 697.5h0M1174.7 676.8h0M1199.1 728.3h0M1181.9 709.7h0M1154.9 666.4h0M1181.7 722.9h0M1160.4 696.7h0M1202.5 698.3h0M1180.1 701h0M1184.9 710.2h0M1153.6 671.2h0M1148.5 697.6h0M1192.2 731.7h0M1145.9 699.9h0M1159.1 669.2h0M1171.8 713.6h0M1173.7 721.8h0M1165.2 709.1h0M1165.5 719.4h0M1166.1 705h0M1193.9 712.4h0M1153 720.8h0M1162.5 650h0M1152.7 690.9h0M1147.9 710.2h0M1163.7 666.7h0M1163.7 725.7h0M1226.1 729.2h0M1156.1 649.5h0M1152.3 658.8h0M1197 706h0M1212.3 690h0M1153.7 663.3h0M1176.9 727.2h0M1158.8 680.2h0M1168.7 686.7h0M1190.6 706.1h0M1159.3 724.1h0M1158.5 672.4h0M1184.9 729.1h0M1161.9 698.4h0M1212.6 731.9h0M1189 711.3h0M1163.7 655.5h0M1166.8 673.7h0M1209.6 725.6h0M1167.4 683.6h0M1185.9 693.6h0M1217.7 723.8h0M1156.6 724.6h0M1150.2 694.5h0M1181.4 718.8h0M1198.9 725.9h0M1163.3 686.4h0M1168.7 677.9h0M1191.7 727.4h0M1213.2 735h0M1213.5 719h0M1150.9 661.6h0M1174.3 705.5h0M1197.4 710h0M1160.7 711.8h0M1184.8 703.4h0M1172.4 670.2h0M1156.3 675.9h0M1199.6 707h0M1171 702.2h0M1174.3 709.2h0M1167.1 688.8h0M1162.2 681.3h0M1179.3 729.1h0M1171.6 708.7h0M1190.3 690h0M1155.8 722.3h0M1176 683.1h0M1185.3 707.5h0M1182.3 702.6h0M1181.3 705.7h0M1154.9 708h0M1166.9 725.2h0M1179.4 710.5h0M1164.6 688.6h0M1207.4 735.8h0M1181.7 699h0M1166.6 662.2h0" stroke="#e31a1c" stroke-width="4.3" stroke-linecap="round" fill="none"/>
<path d="M1182.3 621.5h0M1209 599h0M1207.6 567h0M1193.7 570.5h0M1201.4 644.4h0M1183.6 602h0M1188.5 575.2h0M1188.5 651.7h0M1200.1 615.3h0M1209.3 630.9h0M1209.7 547.8h0M1211.2 646.3h0M1176.1 568.1h0M1183 549.8h0M1198.5 541.9h0M1181.9 567.3h0M1167.4 574.3h0M1209.3 580.1h0M1193.8 584h0M1185.4 669.3h0M1199.2 650.8h0M1180 562h0M1194.2 625.8h0M1184.4 569.5h0M1183.5 637.6h0M1189.3 640.2h0M1180.9 580.2h0M1186.6 604.3h0M1181.5 660.2h0M1173.9 556.8h0M1157.5 584.8h0M1187.5 589.2h0M1165.8 564.1h0M1207.5 571.8h0M1205.9 641.6h0M1190.4 587.9h0M1196.6 551.8h0M1172.8 643.3h0M1157.8 626.9h0M1174.6 597.5h0M1166.5 562h0M1193.7 666.7h0M1158.9 580.7h0M1211.8 594.1h0M1192.6 638.8h0M1224.3 585.1h0M1200.6 553.9h0M1190.2 623.5h0M1199.5 662.8h0M1192.1 591h0M1167.3 619.3h0M1179.4 568.3h0M1200.1 607.1h0M1179.3 564.7h0M1166 604.5h0M1198.7 550.9h0M1183.4 611.6h0M1205.7 545.6h0M1170.7 617.2h0M1162.6 569.9h0M1176.7 582.4h0M1185.7 620.4h0M1195.3 648.7h0M1217.2 643.1h0M1176.1 557.2h0M1159.9 631.9h0M1215.5 629.8h0M1154.2 577.1h0M1172.7 591.2h0M1167.6 635.9h0M1197.3 653.1h0M1161.7 609.5h0M1195 557.8h0M1161.5 589.6h0M1155.8 612.5h0M1225.8 589.3h0M1192.2 646.8h0M1154.2 627.1h0M1181.8 564.5h0M1191.7 652.7h0M1160.9 598.7h0M1184.9 652h0M1204.2 595.9h0M1190.4 657.8h0M1175.9 644.8h0M1154 634.9h0M1198 646.3h0M1163.9 591h0M1159.5 601.9h0M1183 584.2h0M1182.3 627.2h0M1157.2 563.9h0M1174.5 564.6h0M1170.2 537.7h0M1186 555.1h0M1184.4 551.6h0M1187.3 561.6h0M1192.2 573.2h0M1212.6 602.1h0M1205.5 586.5h0M1166.9 553.7h0M1212.5 558h0M1186.7 628.3h0M1165 640h0M1155.8 595.8h0M1202 547h0M1179.8 630.5h0M1153.6 630.6h0M1152 641.8h0M1160.5 564.9h0M1192.5 549.9h0M1168.2 588.7h0M1177.4 552.4h0M1177.5 600.3h0M1155.7 641.3h0M1215.5 591.5h0M1201 648.6h0M1194.5 614.4h0M1188.3 606.3h0M1205.5 565.5h0M1192.9 544h0M1180.1 635.2h0M1204 551.4h0M1169.9 612.9h0M1202.9 535.3h0M1158 598.8h0M1196.4 607.6h0M1201 544.5h0M1166.2 566.5h0M1176.4 663.9h0M1168.8 640.4h0M1197.5 642.2h0M1176.2 554.3h0M1191.9 546.1h0M1158.3 618h0M1204.6 646h0M1181.7 632.6h0M1168.9 607.5h0M1159 562.3h0M1189.2 655.1h0M1190 598h0M1188.7 565.5h0M1200.1 623.1h0M1198 601.2h0M1180.1 549.6h0M1180.9 596.4h0M1160.8 620h0M1195.7 663.1h0M1170.1 628h0M1167.9 616h0M1199.8 592.7h0M1175.7 560.7h0M1165.3 568.7h0M1205.5 652.5h0M1200.5 610.4h0M1171.9 595.2h0M1203.6 578.1h0M1202.6 566.6h0M1160.3 646.8h0M1172.8 600.3h0M1158.9 590.6h0M1205.6 584.2h0M1210.8 648.7h0M1218.9 624.8h0M1204.9 589h0M1204.2 615.4h0M1176.1 616.3h0M1162.1 563h0M1167 581.8h0M1195.9 638.7h0M1172 549.6h0M1205 598.1h0M1206.4 600.2h0M1166.1 613.2h0M1175.7 607.9h0M1194 547.1h0M1187 611.5h0M1184 580.8h0M1154.6 554.3h0M1220.6 588h0M1183.4 562.8h0M1165.6 583.9h0M1210.6 638.3h0M1195.6 670h0M1208.4 550.8h0M1201.4 569.6h0M1197 635.9h0M1195.7 619.7h0M1200.8 674.2h0M1194.2 623.4h0M1190.4 563.3h0M1179.4 645h0M1188.9 583h0M1197.4 595.3h0M1193.1 580.3h0M1197.6 587.3h0M1185.7 623.6h0M1158 570h0M1223.7 555.9h0M1192.8 605.6h0M1177.4 577.9h0M1208.4 650.7h0M1153.7 567.2h0M1191.7 655h0M1212.1 656.2h0M1210.4 554.8h0M1195.3 592.3h0M1211.7 586.9h0M1192.5 609.1h0M1156.6 636.4h0M1157.4 624.2h0M1203.7 667.5h0M1159.1 640.6h0M1194.7 633.1h0M1214.7 609.4h0M1175.5 648h0M1187.3 615.4h0M1173.8 612.9h0M1196.4 584.2h0M1166.3 648.7h0M1153.5 610.8h0M1190.5 567.4h0M1202.2 633.6h0M1191.1 559.3h0M1187.1 568.7h0M1195 564.7h0M1179.1 555h0M1213.5 649.8h0M1159 588h0M1168.5 558.7h0M1196.3 581.8h0M1194.7 646h0M1183.4 538.2h0M1162.8 628.9h0M1185.9 598.6h0M1159.2 596.7h0M1176.2 668.7h0M1172.3 646h0M1206.7 628.1h0M1200 655.8h0M1182.9 572.7h0M1160.4 569.9h0M1167.1 638.7h0M1172.4 579.3h0M1175.7 656.4h0M1181.1 600.7h0M1176.5 603.6h0M1160 583.6h0M1185.5 632.4h0" stroke="#1f78b4" stroke-width="4.3" stroke-linecap="round" fill="none"/>
<path d="M1156.1 558.5h0M1190.9 525.5h0M1198.7 519.2h0M1184.1 497.7h0M1217.8 506.6h0M1178.2 548.1h0M1204.3 517h0M1223.2 552.8h0M1178.6 524.3h0M1209.1 491h0M1180.6 541.8h0M1173.8 500.1h0M1153.1 540.9h0M1206.6 535.2h0M1203.7 499.5h0M1210.3 510.2h0M1181.9 527.6h0M1177.6 519.8h0M1173.3 547.2h0M1169.5 492.2h0M1152.4 533.7h0M1150.3 530.3h0M1193.9 488.1h0M1202.5 508.5h0M1194.8 507.8h0M1212 483.4h0M1153.8 546.5h0M1199.1 501.3h0M1175.9 502.8h0M1197.5 554.2h0M1189.2 542.1h0M1162 526.3h0M1212.7 528h0M1185.9 479.8h0M1193.3 520.8h0M1165.5 534.1h0M1207.1 494.8h0M1189.5 532.8h0M1184.8 486.9h0M1182.1 521.2h0M1197.6 486.1h0M1207.8 538h0M1191.7 491.1h0M1177.5 484.9h0M1200.6 525h0M1181.1 523.8h0M1196.9 475.7h0M1212.3 488.9h0M1201.4 499.6h0M1180.2 513.8h0M1169.3 530.7h0M1161.9 547.8h0M1201 515.7h0M1185 518.1h0M1220.9 530.2h0M1182.1 503.7h0M1165.8 531.7h0M1155.8 515.1h0M1179.8 479h0M1181.4 518.6h0M1214.8 495.2h0M1191 552.5h0M1165.8 510.1h0M1215.4 516.2h0M1181 547.6h0M1218.3 488.8h0M1184.9 475.4h0M1209.9 486h0M1222.5 510.7h0M1152.1 542.9h0M1152.5 520.4h0M1184.8 533.1h0M1181.5 509.9h0M1159.7 517.1h0M1157.3 539h0M1171 500.5h0M1183.6 500.9h0M1206.6 541.1h0M1214.9 519.3h0M1180.1 507.8h0M1177.3 516h0M1169.5 519.8h0M1190.7 507.2h0M1171 493.8h0M1216.6 497.1h0M1215.8 505.6h0M1155.9 507.5h0M1151.4 524.3h0M1208 501.3h0M1158.9 547.3h0M1204.4 476.2h0M1194.1 481.7h0M1210.7 512.6h0M1190.4 496.8h0M1156.2 545.5h0M1187.6 551.2h0M1160.3 529.1h0M1191.2 534.3h0M1217.6 494.7h0M1205.5 480.2h0M1155 525.4h0M1177.6 477.7h0M1205.5 505h0M1158.4 543.9h0M1163.4 536.9h0M1175 542.8h0M1205.1 483.9h0M1197.1 535.2h0M1194.7 512.5h0M1183.5 482.4h0M1176.1 489.7h0M1180.8 475.4h0M1214.6 525.6h0M1219.6 499.8h0M1205.5 532.1h0M1208.3 512.6h0M1194.2 493.4h0M1217.7 509.2h0M1166 501.7h0M1180.8 497.9h0M1189.9 544.3h0M1190.1 483.1h0M1202.4 482.4h0M1212.3 481.1h0M1212.8 493.1h0M1157.5 505.6h0M1195.3 485.2h0M1167.4 529h0M1148.3 533.4h0M1200.8 493.1h0M1191.4 511.5h0M1208.8 475.1h0M1177.8 506.1h0M1215.1 539.2h0M1203.8 493.8h0M1158.6 521.8h0M1172.3 491.4h0M1157.5 524.2h0M1184.7 489.1h0M1198.3 521.4h0M1167.1 524.5h0M1192.6 501.6h0M1187.3 475.1h0M1208 479.1h0M1162.6 541.1h0M1200.7 518.4h0M1171.5 510.3h0M1215.5 501.4h0M1221 504.2h0M1211.6 506.5h0M1172.2 512.5h0M1188.9 490.7h0M1215.5 529.8h0M1206 489.4h0M1212.2 534.9h0M1164.2 543.4h0M1189.1 539.9h0M1159.1 508.6h0M1184.7 524.3h0M1176.8 563h0M1203.4 503.4h0M1183.8 495.4h0M1179.8 526.7h0M1186.5 522.1h0" stroke="#33a02c" stroke-width="4.3" stroke-linecap="round" fill="none"/>
<path d="M1247.9 554h0M1237.4 546.7h0M1267.1 555.5h0M1280.3 605.8h0M1290.7 578.8h0M1241.8 607.2h0M1261.6 532.1h0M1272.3 566h0M1279.1 550.7h0M1241.4 517.8h0M1270.7 538.4h0M1266.4 541.9h0M1257.4 568.2h0M1264.9 526.2h0M1272.2 583.9h0M1249.3 595.7h0M1230.6 590.2h0M1243.7 539h0M1281.1 577.3h0M1273.8 531.4h0M1239.1 597.5h0M1300.1 607.5h0M1221.4 585.9h0M1224.1 576.5h0M1288.7 575.7h0M1283.6 587.5h0M1244.5 546.9h0M1227.5 587h0M1306 576.3h0M1269.8 557.5h0M1268.4 581.8h0M1254.9 572.9h0M1250.8 541.4h0M1240.4 520.5h0M1219.4 532.6h0M1211.7 576h0M1218.3 592.9h0M1238.3 560.7h0M1253.9 567.4h0M1239.8 601.7h0M1296.6 555h0M1310.4 594.7h0M1300.8 559.5h0M1237.3 557.2h0M1306.1 605.6h0M1244.9 550h0M1244 591.3h0M1272.9 607.5h0M1309 566.7h0M1251 602h0M1270.2 543.5h0M1247.9 563.5h0M1226.4 573.6h0M1278.7 574.3h0M1293.4 568.4h0M1270.4 563.1h0M1284 562.3h0M1255.8 520.3h0M1250.5 572.5h0M1284.4 582.9h0M1294.3 578.1h0M1287 560.8h0M1273.8 593.7h0M1268.6 530.6h0M1298.2 560.9h0M1235.5 542.6h0M1270.5 546.5h0M1267.9 569.4h0M1253.2 545.3h0M1304.1 567.7h0M1236.1 531.7h0M1240.5 604.8h0M1234.9 586.7h0M1253 521.4h0M1267.5 516.2h0M1214.9 555.1h0M1292 588.8h0M1227.1 580.5h0M1241.2 542h0M1235.8 548.9h0M1293.3 583.3h0M1258.9 525.5h0M1246.6 584.7h0M1219.8 557.9h0M1228 539.7h0M1299.8 599.6h0M1274 580h0M1311.4 569.7h0M1275.6 604.6h0M1233.5 567.8h0M1252.3 592.2h0M1260.4 550h0M1252.1 517.1h0M1301 571.7h0M1232.7 545.3h0M1275.6 558h0M1263.3 585.4h0M1219.5 554.6h0M1254.3 517.1h0M1224.9 539.8h0M1238.4 611.1h0M1210.3 596.7h0M1230.1 532.7h0M1295.5 598.7h0M1265.5 603.7h0M1233.1 580.9h0M1266.4 577.2h0M1258.3 598.5h0M1281.6 535h0M1261.5 598h0M1257.4 602.2h0M1251 610.8h0M1296.2 595.5h0M1253 555.5h0M1225 582.5h0M1223.2 534.9h0M1280.7 597.1h0M1230.4 544.2h0M1268 524.7h0M1229 528.6h0M1289.9 590.7h0M1311.6 586.3h0M1277.8 524.5h0M1268 518.7h0M1261.5 513.1h0M1265.7 589.3h0M1217 537h0M1241.3 552.3h0M1290.7 597.7h0M1285.9 566.8h0M1240.7 529.9h0M1266.3 582.7h0M1249.5 578.4h0M1234 557.1h0M1297.6 567.1h0M1246.5 532.7h0M1243.4 593.5h0M1287.9 582.4h0M1265.7 568.5h0M1297.5 578.2h0M1270.2 570.2h0M1230.8 524.3h0M1278 548.1h0M1216.7 575.6h0M1314.5 590.8h0M1228.9 549.4h0M1248.1 558.7h0M1302.1 601.7h0M1270 608.4h0M1219.2 549.4h0M1225.7 531.3h0M1250.7 566h0M1299.4 575.5h0M1291.2 576.2h0M1256 515.3h0M1234.2 619.3h0M1244.6 569.4h0M1260.6 558.8h0M1219.9 552h0M1224.4 561.3h0M1247 528.8h0M1226.5 535h0M1303.2 564.9h0M1235 575.3h0M1248.8 612.9h0M1236.7 592.4h0M1270.5 560.2h0M1240.3 524.1h0M1233.2 549h0M1289.5 543.9h0M1283 541.8h0M1248.2 591.7h0M1307 587.3h0M1277.4 595.1h0M1257.9 589.2h0M1250.7 549.4h0M1219.3 582.2h0M1268.5 598.9h0M1308.7 589h0M1306.5 608.3h0M1251.1 552.9h0M1223.4 528.5h0M1237.4 571h0M1268.6 564.4h0M1308.6 604.1h0M1285.3 593.4h0M1268.5 527.5h0M1252.1 576.3h0M1258.8 571.5h0M1237.8 554.8h0M1280.4 542.9h0M1248.5 513.3h0M1248.5 546.3h0M1231.2 558.8h0M1291.3 558.3h0M1245.6 599.8h0M1242.9 528.6h0M1241.9 585.5h0M1267.5 587.1h0M1287 585.3h0M1259.9 555h0M1284.5 575.5h0M1210.9 567.1h0M1251.4 586.7h0M1225.1 546.3h0M1263.7 574.5h0M1214.8 566h0M1254.1 595.7h0M1278 587.2h0M1271.5 580.5h0M1245.5 558h0M1212.8 546h0M1223.3 579.1h0M1258 530.4h0M1257.4 557.9h0M1255.2 526.4h0M1239.6 592.5h0M1242.7 600.4h0M1284 536h0M1244.6 536h0M1244.6 541.1h0M1264.7 561h0M1260.1 564.8h0M1300 564h0M1272.4 535.7h0M1313.7 596h0M1228 593.4h0M1256.5 547.3h0M1278.7 526.6h0M1273.1 539.4h0M1274.3 560.2h0M1262.7 520.6h0M1254 538.2h0M1312.9 580.6h0M1255.8 565.7h0M1269.7 554.9h0M1297.2 582.9h0M1297.9 591.7h0M1261.6 577h0M1312.4 575.7h0M1253.9 509.2h0M1305.2 589.5h0M1247.2 515.8h0M1246 542.9h0M1290.1 573.2h0M1303 587.6h0M1259.8 580.5h0M1271.8 555.9h0M1249.9 574.7h0M1243 531.4h0M1288.9 565.1h0M1295.1 582h0M1255.8 607.2h0M1234 590.8h0M1307.8 580.8h0M1252.4 598.1h0M1291.4 563h0M1239.6 549.3h0M1306 602.8h0M1236.9 579.9h0M1227.8 559.9h0M1291.6 595.5h0M1259.7 592.4h0M1218.4 570.6h0M1244 533.6h0M1290.7 552.8h0M1277.8 534h0M1278.4 610.6h0M1261 604.8h0M1232.6 537.8h0M1238.3 532.1h0M1292 570.6h0M1266.5 558h0M1225.5 569.6h0M1249.7 519.4h0M1269.6 576.4h0M1237.2 574h0M1305.7 597.5h0M1234.8 523.9h0M1247.9 576.6h0M1248.1 602.4h0M1296.8 602.2h0M1270.5 525.5h0M1262.8 547.1h0M1228.3 524.5h0M1293.4 545.4h0M1239.5 574.3h0M1251 568.8h0M1279.5 565.1h0M1291.1 546.9h0M1275 544.2h0M1310.4 576.8h0M1213.8 580.1h0M1229.9 586.6h0M1303.3 557.1h0M1242.3 522.4h0M1312 603.6h0M1281.5 586.2h0" stroke="#a6cee3" stroke-width="4.3" stroke-linecap="round" fill="none"/>
<path d="M1253.7 721.9h0M1278 722h0M1221 689.2h0M1289.1 697.8h0M1226.7 731.6h0M1234.2 685.2h0M1239.5 730.4h0M1270.6 721h0M1178.7 685.6h0M1252.5 696.9h0M1199.1 679.2h0M1193.5 690.1h0M1226.5 700.6h0M1285.9 695.4h0M1182.7 667.3h0M1275.4 698.3h0M1192.6 692.7h0M1204.7 680.4h0M1225.8 657.4h0M1234 688.5h0M1256.2 703.6h0M1187.8 673.3h0M1225.1 685.3h0M1198.8 669.9h0M1244.2 717.8h0M1216.1 692.3h0M1253 727.2h0M1254.9 669.5h0M1206.3 705h0M1262.8 692.1h0M1202.2 676.9h0M1178.7 669.2h0M1264.4 711.2h0M1218 700.5h0M1266.1 695.3h0M1245.7 724.4h0M1234.5 705.8h0M1283.6 700.2h0M1212.8 665.5h0M1211.5 699.7h0M1285 711.3h0M1238.9 676.4h0M1218.5 669.7h0M1210.2 678.2h0M1164.2 660.7h0M1207.3 655.3h0M1258 688.6h0M1278.1 713h0M1243.5 669.3h0M1261.3 722.1h0M1270.5 695.1h0M1233.5 679.3h0M1264.3 718.4h0M1229.1 677.2h0M1201.5 695.5h0M1278 716.8h0M1250.3 698.6h0M1250.5 727.7h0M1252.1 710h0M1254.7 679.3h0M1299.9 692.3h0M1267.4 724.2h0M1202.8 691.8h0M1223 702.5h0M1276.6 695.6h0M1274.2 705.3h0M1218.2 719.3h0M1210.8 694.7h0M1291.9 704.3h0M1232.4 699.9h0M1236.5 695.5h0M1261.4 714.1h0M1204.8 686.3h0M1212.2 714.4h0M1214.1 686.8h0M1218.3 696h0M1281 694.2h0M1292.1 702.1h0M1198.9 660.4h0M1246.6 719h0M1236 699.7h0M1198.9 703.6h0M1245.4 706.5h0M1272.1 714.6h0M1197.5 694.4h0M1213.8 683.3h0M1251.9 686.8h0M1192.2 671.6h0M1235.8 717.6h0M1240.6 704.3h0M1239.7 683.7h0M1263.8 694.8h0M1230.3 715.5h0M1207.2 692.1h0M1254.6 708.7h0M1224.8 672.8h0M1215.1 657.7h0M1195.4 678.9h0M1247.6 681.7h0M1199.9 688h0M1237.4 690.8h0M1281.8 715.9h0M1262.5 709.6h0M1212.5 679.9h0M1282.6 706.3h0M1200 697.7h0M1210.3 682.7h0M1259.6 682h0M1230.7 688.2h0M1236.3 685.9h0M1253.3 692.8h0M1187.1 686.1h0M1197.3 685.1h0M1209.2 700.7h0M1232.1 718h0M1229.1 690.2h0M1245.5 701h0M1272.6 712.1h0M1233.4 723.1h0M1275.3 691.5h0M1267 698.5h0M1256.8 683h0M1210.5 665.9h0M1276.7 711h0M1263.8 714.5h0M1248 727.1h0M1234.3 697.9h0M1215.6 720h0M1263.8 722.7h0M1235.7 682.3h0M1240.6 679.2h0M1255.3 719.2h0M1288.3 705.4h0M1239.4 717.7h0M1234.6 725.2h0M1239.9 668h0M1274.4 725.8h0M1226.2 705.1h0M1247.8 688.8h0M1223 671.5h0M1217.6 727.3h0M1223 712.3h0M1245.2 697.4h0M1244.8 728h0M1184.6 676.7h0M1215.2 704h0M1232.2 668.6h0M1242.5 693.2h0M1281.7 697h0M1287.5 700h0M1256.9 729.9h0M1258.5 708.8h0M1220.4 716.6h0M1260 724.3h0M1229.1 648.5h0M1222 705.5h0M1208 672.2h0M1217.9 714.2h0M1220.8 680.8h0M1244 720.6h0M1278.7 691.2h0M1247.2 729.7h0M1267.8 693.5h0M1253.5 706h0M1267.6 702.7h0M1264.4 708h0M1227.6 720.5h0M1227.1 718.2h0M1240.3 699.3h0M1222.2 708.5h0M1221.7 694.9h0M1263.4 698.8h0M1191.1 709.7h0M1254 699.7h0M1238.8 681.5h0M1199.2 683.7h0M1281 688.4h0M1223.6 714.5h0M1249.3 691.1h0M1220.3 671.4h0M1181.7 692.4h0M1235.3 703.5h0M1221.4 685.2h0M1276.1 718.6h0M1247.7 732h0M1284.8 708.4h0M1248.8 713.9h0M1190 670.1h0M1220.4 702.1h0M1241 674.6h0M1238.7 710.4h0M1227.5 713.7h0M1270.7 716.8h0M1298.9 714.2h0M1290.1 709.5h0" stroke="#b2df8a" stroke-width="4.3" stroke-linecap="round" fill="none"/>
<path d="M1262.1 624.3h0M1278 646.4h0M1307.3 617.1h0M1307.5 612.2h0M1300.9 664.3h0M1267.5 689.8h0M1289 624.8h0M1287.5 663.8h0M1278.1 626.9h0M1263.9 640.5h0M1304.2 629.4h0M1270 632.2h0M1278.2 679.3h0M1300.8 654.6h0M1277.3 633.9h0M1302.7 662.1h0M1275.4 673.9h0M1274 677.1h0M1254 636.5h0M1282.9 665.1h0M1275.1 632.6h0M1287.2 646.6h0M1299.6 604h0M1294.1 642.7h0M1278.8 619.8h0M1258.7 658.7h0M1295.3 631.8h0M1267.9 648.5h0M1274.9 619.7h0M1288.9 661.1h0M1307 656.7h0M1266 684.9h0M1266.4 675.2h0M1282.1 643.7h0M1313.7 633.9h0M1293.5 663.5h0M1302.4 637.3h0M1259.5 634.9h0M1311.6 598.4h0M1269.3 651.4h0M1281.8 655.7h0M1281.6 618.8h0M1263.6 657.7h0M1286.6 684.9h0M1274.4 610.5h0M1273.6 668.5h0M1295.9 621h0M1291.4 667.6h0M1277.9 668.1h0M1295.9 692.4h0M1304.9 642.1h0M1284.8 662.4h0M1315.9 604.8h0M1290.3 686h0M1284.6 659.2h0M1287.9 614.4h0M1285.4 673.2h0M1252.3 617.9h0M1297.7 616.9h0M1279.1 653.8h0M1280.8 630.3h0M1310.2 649.5h0M1305.2 661.3h0M1307.5 671.6h0M1270.6 684.4h0M1280.8 658.7h0M1291.6 673.3h0M1265.6 636.6h0M1309.2 654.1h0M1295 674.9h0M1263.8 645h0M1296.5 651.6h0M1265.1 654.2h0M1297.7 681.3h0M1297.4 655.9h0M1308.1 632.5h0M1304 626.6h0M1265.8 682.2h0M1311.8 642.5h0M1273.6 622.2h0M1313 650.5h0M1293.4 614.3h0M1276.6 658.9h0M1271.1 628.4h0M1286.9 666.5h0M1279.2 616.3h0M1301.1 620.6h0M1264.5 666.4h0M1296.5 665.7h0M1288.4 655.7h0M1260.5 628.4h0M1307.5 659.2h0M1291.8 677.1h0M1255.4 648.6h0M1282.3 636.9h0M1257.2 661.8h0M1271.6 639.3h0M1283.4 649.8h0M1293.8 609.7h0M1251.9 679.1h0M1251.7 644.9h0M1305.8 650.8h0M1309.7 622.3h0M1304.2 678.6h0M1257.6 615.7h0M1260.8 614.7h0M1252.5 676.9h0M1302.2 658.1h0M1276.9 655.9h0M1268.7 642h0M1305.7 631.5h0M1268 639h0M1280.3 686.2h0M1274 659.8h0M1313 637.8h0M1274.6 649h0M1312.8 655.8h0M1297.3 628.4h0M1316.1 617.2h0M1288.5 677.5h0M1274.9 642.6h0M1263.5 685.9h0M1297.4 669.9h0M1244.8 637.6h0M1314.9 629.3h0M1294.7 638.7h0M1276.8 649.5h0M1260.1 687.1h0M1304.9 615.9h0M1312.2 622.7h0M1298.3 640.1h0M1255.4 654.8h0M1311.3 632.6h0M1299 643.1h0M1271.6 625.7h0M1310.6 640.3h0M1294.2 657.6h0M1270.5 613.5h0M1277.8 661.4h0M1278.6 639.9h0M1287.4 635.3h0M1306.5 666.5h0M1303.9 610.6h0M1265.7 671.2h0M1260 661.6h0M1306.4 653.7h0M1270.6 692h0M1272.5 635.4h0M1262.6 642.7h0M1283 630.8h0M1270.5 649.4h0M1309.7 658.1h0M1317.4 634.3h0M1255.7 612.2h0M1276.8 617.9h0M1314.8 639.9h0M1263.8 614.9h0M1278.8 663.7h0M1309.6 617.5h0M1314.3 618.9h0M1279.3 648.5h0M1258.8 611.9h0M1289.4 637.4h0M1300.4 622.8h0M1275.7 653.2h0M1265.8 661.5h0M1281.1 668.6h0M1297.8 684.7h0M1259.9 608.5h0M1313.8 602.4h0M1289.3 651.6h0M1286.9 658.9h0M1312.7 658h0M1289.6 645.7h0M1292.8 644.8h0M1307.7 625.6h0M1283.1 606.6h0M1290.6 670.1h0M1287.2 652.4h0M1285.4 640.1h0M1244.6 646.6h0M1283.3 684.7h0M1244.3 678.8h0M1305 664.4h0M1271.4 620h0M1293.4 628.3h0" stroke="#fb9a99" stroke-width="4.3" stroke-linecap="round" fill="none"/>
<path d="M1421.4 705.9h0M1410.4 703.5h0M1398.4 705.2h0M1408 700.6h0M1422.2 697h0M1423.6 713.3h0M1399.7 709.5h0M1415.8 705h0M1402.3 718.7h0M1410.8 724.5h0M1408.3 724.1h0M1405.3 694.6h0M1413.3 696.3h0M1401.9 675.6h0M1416.3 714.1h0M1396.2 704.5h0M1423.6 682.7h0M1420.7 710.4h0M1428.5 691.7h0M1401.9 684.6h0M1404.7 700.6h0M1428 703.5h0M1408.8 677h0M1403.7 703h0M1404.6 693h0M1402.3 717h0M1420.8 702.9h0M1417.6 686.2h0M1431.2 709.1h0M1407.5 722.6h0M1421 715.1h0M1409.1 706.8h0M1417.8 718.5h0M1424.3 680.8h0M1415.4 697.2h0M1413.2 706.8h0M1402.2 682.5h0M1424.5 702.7h0M1412.7 677.6h0M1397 712.2h0M1417.8 683.7h0M1428.9 706.4h0M1421.9 718.8h0M1403 705.2h0M1397.3 708.6h0M1410.7 701.2h0M1405.4 707.4h0M1408.1 685.7h0M1397.2 685.9h0M1410.6 717.9h0M1402.8 710.8h0M1426.8 708.2h0M1422.6 686.4h0M1410.8 714.2h0M1401.3 691.7h0M1419.4 696.4h0M1424.9 692.2h0M1420.8 688.1h0M1418.3 713.7h0M1418.5 702.8h0M1414.6 716.4h0M1422.3 711.1h0M1396 696.4h0M1410.1 684.3h0M1396.9 679.6h0M1406.3 717.1h0M1400.4 681.7h0M1415.8 688.2h0M1412.2 712.1h0M1427.5 686.8h0M1413.2 709.5h0M1397.9 703.2h0M1411.7 689.3h0M1402.4 697.3h0M1420.6 701.2h0M1406.3 679.9h0M1413.5 703.5h0M1434 704.2h0M1402 687.1h0M1421.5 680.4h0M1426.2 683h0M1396.7 698.2h0M1428.5 693.3h0M1403.8 712.3h0M1409.5 705h0M1399.8 703.8h0M1411.6 705.7h0M1419.6 692.3h0M1420.9 686.4h0M1432 696.1h0M1370.8 688.4h0M1386 689.2h0M1378.7 681.8h0M1385.6 685.2h0M1372.9 692.9h0M1378 703.3h0M1392.7 706.5h0M1386.7 702.9h0M1375.1 686.7h0M1366 673.3h0M1387.7 693.5h0M1392.7 691.3h0M1381.8 693.6h0M1375.3 694.9h0M1378.4 696.7h0M1370 675.9h0M1368.1 686.9h0M1383.3 703.8h0M1372.7 676.4h0M1394.5 688.5h0M1387.6 699.2h0M1382.8 690.2h0M1372.3 700.3h0M1368.9 697.1h0M1369.2 674.4h0M1392.7 708.7h0M1366.3 688.1h0M1371 678.2h0M1383.4 678.1h0M1361.4 684.3h0M1384.9 706.3h0M1381.1 705.3h0M1359.8 694.8h0M1388.2 679h0M1372.6 684.1h0M1347.7 673.6h0M1359.8 687.8h0M1340.2 655.5h0M1353.7 680.6h0M1328.3 642.9h0M1337.8 644.1h0M1317.1 638.4h0M1324.9 625.7h0M1325.5 660h0M1330 645.9h0M1336.7 648.6h0M1341.1 647.8h0M1318.8 651.7h0M1338.8 651.7h0M1319.4 656.1h0M1354.3 682.5h0M1333.7 649.3h0M1328.3 645.1h0M1319.3 639.7h0M1319 644.6h0M1335.3 636.7h0M1350.8 673.9h0M1344.7 652.9h0M1338.5 628.1h0M1330.5 633.3h0M1351.5 670.3h0" stroke="#fdbf6f" stroke-width="4.3" stroke-linecap="round" fill="none"/>
<path d="M1247.8 635.3h0M1226.4 609.2h0M1237.5 632.2h0M1218.7 639.3h0M1246.7 659.8h0M1245.2 617h0M1209.5 616.4h0M1227.5 639.4h0M1254 632.3h0M1218.1 633.2h0M1225.2 642.8h0M1200.7 639h0M1233.8 658.3h0M1262.2 618.9h0M1215.4 602h0M1246.4 627h0M1240.1 644.5h0M1253.1 623.3h0M1236 617.4h0M1247.7 651.2h0M1235.4 622.5h0M1229.7 640.6h0M1240.4 652.7h0M1230.1 654.1h0M1251.9 630.4h0M1205.4 608.3h0M1249.6 607.5h0M1222.1 643.3h0M1244.9 625.1h0M1237 670.2h0M1252.9 656h0M1246.1 668.3h0M1219.6 643.9h0M1210.7 621.2h0M1216.5 646.3h0M1234 654.1h0M1232.3 672.8h0M1224.4 640.6h0M1238.7 634.5h0M1226.6 620.1h0M1233.9 665.2h0M1204.8 635.2h0M1233.9 615.8h0M1250 616.2h0M1232.7 608.6h0M1225.3 635.5h0M1240.9 628.6h0M1211.5 632.3h0M1260 639.6h0M1242.9 642.4h0M1249.8 655h0M1239.7 621.5h0M1243.8 627.5h0M1225.6 625.9h0M1258.1 664.9h0M1252.6 620.6h0M1228.8 613h0M1237.7 626.9h0M1229.5 636h0M1238.8 616.1h0M1242.3 624.5h0M1227.1 636.9h0M1245 664.4h0M1237.4 663.3h0M1235.4 660.8h0M1208.6 639.6h0M1219 617.9h0M1222.9 637.4h0M1242.1 630.6h0M1213.1 616h0M1245.6 656.4h0M1245.6 652.6h0M1229.1 663.6h0M1230.2 610h0M1211.4 626h0M1228.8 616.1h0M1223.9 633h0M1233.7 635.1h0M1257.1 640.8h0M1203.8 631.6h0M1221.6 600.1h0M1237.8 648.3h0M1203.3 623.7h0M1208.5 626.6h0M1248.5 628.3h0M1218.2 629.8h0M1233.2 621.8h0M1219.3 610.9h0M1249.5 646.3h0M1248.6 625.6h0M1215.5 615.9h0M1225.3 611.2h0" stroke="#ff7f00" stroke-width="4.3" stroke-linecap="round" fill="none"/>
<path d="M1187.8 680.8h0M1153.6 717.7h0M1195.7 723.6h0M1198.5 732.1h0M1161.8 676.9h0M1156.5 688.5h0M1188.5 692.4h0M1182.8 716.2h0M1165.4 696h0M1156.4 704.8h0M1190.2 715.2h0M1177 707.4h0M1191.8 702.3h0M1169 733.2h0M1202.2 712.3h0M1161.6 652.6h0M1180.6 689.1h0M1175.2 702.6h0M1188.7 695.3h0M1172.9 683h0M1199.8 713.2h0M1204.5 726.9h0M1175.4 731.1h0M1163.3 705.4h0M1185.2 734.7h0M1154 704.7h0M1185.5 717.9h0M1197.2 713.7h0M1206.9 726.9h0M1168.8 674.9h0M1187.7 731.9h0M1173.7 728.8h0M1160.9 691.6h0M1151.7 715.7h0M1165.4 730.3h0M1159.4 653.4h0M1176.3 716.6h0M1150.3 654.8h0M1179.6 721.4h0M1172.6 674.7h0M1209.1 712.9h0M1162 658.7h0M1159.3 677.9h0M1187.1 714.5h0M1177.1 693.1h0M1178.7 723.8h0M1198.5 715.4h0M1147 703.9h0M1191.2 712.9h0M1185.9 699.7h0M1202.1 707.9h0M1184.8 737.6h0M1169.6 714.7h0M1158.5 693.3h0M1163.7 683.1h0M1167.6 670.8h0M1155.9 718.1h0M1194.5 726.3h0M1158.7 714.1h0M1177.8 703.8h0M1182.2 728.4h0M1177.1 737.1h0M1165.3 657.6h0M1177.2 713.6h0M1167.5 728.4h0M1169.3 698.9h0M1152.8 647.7h0M1154.6 699h0M1196.7 701.6h0M1171.5 716.8h0M1175.5 686.2h0M1197.6 736.7h0M1172 725.2h0M1155.8 710.1h0M1170.7 680.6h0M1179.9 735.8h0M1190.3 735h0M1178.2 690.6h0M1175.3 679h0M1154.8 691.8h0M1161 700.6h0M1201.1 710.1h0M1154.3 683.7h0M1167.9 711.9h0M1161.9 719.3h0M1154.5 644.3h0M1206.2 724.5h0M1180.5 731.2h0M1154.8 653.4h0M1199.5 720.7h0M1153.1 677.8h0M1149.4 713.9h0M1159.4 687.9h0M1170.9 687.1h0M1178 682.1h0M1213.3 729.7h0M1157.6 666.8h0M1153.4 686.5h0M1182.1 735.1h0M1165.1 715.3h0M1215.9 706.5h0M1197.4 717.4h0M1201.9 722.3h0M1207.7 707.1h0M1167.7 719.6h0M1188 683.2h0M1163.8 692h0M1156.6 715.7h0M1230 721.9h0M1152 703.7h0M1175 692.3h0M1183.7 705.8h0M1194.9 734h0M1187.3 727.9h0M1174.1 734.2h0M1183.9 722.7h0M1152.2 650.7h0M1222.1 725.8h0M1193.4 738.2h0M1221.3 720.1h0M1166.6 680.1h0M1195.7 719.5h0M1210.7 723.4h0M1170.7 696.3h0M1182.3 696.6h0M1162.3 715.8h0M1170.6 676.1h0M1156.3 664.1h0M1175.3 699.7h0M1153.2 674h0M1212.1 721.3h0M1158.3 659.3h0M1165 676.9h0M1159.2 674.8h0M1161.2 721.8h0M1163.3 673.3h0M1185.3 713.2h0M1168.2 694.1h0M1157.4 719.8h0M1179.5 715.1h0M1205.8 733.9h0" stroke="#e31a1c" stroke-width="4.3" stroke-linecap="round" fill="none"/>
<path d="M1149.7 688.8h0M1169.7 707.5h0M1197.7 579.2h0M1202 730.5h0M1180.1 697.4h0M1173.8 571.9h0M1197.1 621.6h0M1153.3 601.7h0M1162.6 594h0M1221.8 493.5h0M1239.8 508.7h0M1254.5 505.2h0M1218.6 483.8h0M1224.6 498.1h0M1250.9 496.8h0M1246.9 503.5h0M1239.9 511.6h0M1229.4 499.3h0M1227.4 505.4h0M1226.8 488.2h0M1236.4 510.7h0M1236.7 494.5h0M1273.3 516h0M1277.7 522.5h0M1235.3 497.2h0M1262.8 508.4h0M1220.8 487.1h0M1239.5 496.7h0M1243.5 504.1h0M1249.9 504.9h0M1235.1 505.2h0M1233.9 508.6h0M1232.8 490.8h0M1237.8 507.6h0M1224.2 491.9h0M1230.3 517.7h0M1250.4 501.5h0M1261.8 502.6h0M1239.6 503.4h0M1233.6 494.6h0M1252.4 505.1h0M1235 493.2h0M1225 506.4h0M1258.6 504.2h0M1233.4 514.4h0M1258.4 506.9h0M1238.5 515.1h0M1243 498.8h0M1245.2 500h0" stroke="#33a02c" stroke-width="4.3" stroke-linecap="round" fill="none"/>
<path d="M1179.1 591.5h0M1189 724.6h0M1192.6 723.1h0M1149.1 706.1h0M1231.5 511.9h0M1222.8 487.6h0M1225.8 501.6h0M1235.8 514.7h0M1222.4 502.1h0M1246.8 505.4h0M1254.3 507.4h0M1268.4 512.7h0M1245.7 512.4h0" stroke="#a6cee3" stroke-width="4.3" stroke-linecap="round" fill="none"/>
<path d="M1273.6 572h0" stroke="#1f78b4" stroke-width="4.3" stroke-linecap="round" fill="none"/>
<path d="M1194.8 707.5h0M1185.7 577.8h0M1151.1 707.5h0M1195.9 612.2h0" stroke="#b2df8a" stroke-width="4.3" stroke-linecap="round" fill="none"/>
<path d="M1207.7 680.9h0M1263.8 726.6h0M1244.4 581.9h0M1218.1 685.7h0M1238.2 722.7h0M1259 586.1h0M1304.4 559.2h0M1212.4 704.2h0M1210.2 685h0M1263.5 557.5h0M1191.4 685.4h0" stroke="#fb9a99" stroke-width="4.3" stroke-linecap="round" fill="none"/>
<path d="M1254.9 580.2h0M1279.7 612.8h0M1249.3 581h0M1289.8 600.8h0M1269.6 585.2h0" stroke="#ff7f00" stroke-width="4.3" stroke-linecap="round" fill="none"/>
<path d="M1198.3 529.8h0M1207.9 558.7h0M1245.1 607.2h0M1207.6 658.9h0M1267 712.8h0M1255.6 652.4h0M1255.9 543.8h0M1270.9 724.5h0M1188.5 687.8h0M1192.2 613.2h0M1167.8 497.3h0M1177.7 512.9h0M1178.9 531.1h0M1273.1 545.7h0M1203 491.7h0M1216.5 533.2h0M1215 605.1h0M1209.7 522.5h0M1279.4 706.8h0M1296.3 648.5h0M1275.9 664.3h0M1186.9 548.2h0M1299.7 659.6h0M1208.3 507.5h0M1150 538.8h0M1268.1 603.6h0M1265.2 688h0M1303.4 653.7h0M1159.3 558.1h0M1225.4 629.9h0M1186.9 532.5h0M1222.7 646.3h0M1181.7 494.3h0M1183.4 597.8h0M1288.5 546.4h0M1264.2 515.8h0M1183.1 619.5h0M1255.3 666h0M1157.7 645.2h0M1150.1 544.5h0" stroke="#e31a1c" stroke-width="4.3" stroke-linecap="round" fill="none"/>
<path d="M1133 461V749.8H1446.4" stroke="#000" stroke-width="2" fill="none"/>
<line x1="1128.5" y1="479.3" x2="1133" y2="479.3" stroke="#000" stroke-width="1.7" />
<text font-size="24.6" text-anchor="end" transform="translate(1120.4 484.8) scale(1 1)">5.0</text>
<line x1="1128.5" y1="549.2" x2="1133" y2="549.2" stroke="#000" stroke-width="1.7" />
<text font-size="24.6" text-anchor="end" transform="translate(1120.4 554.7) scale(1 1)">2.5</text>
<line x1="1128.5" y1="619" x2="1133" y2="619" stroke="#000" stroke-width="1.7" />
<text font-size="24.6" text-anchor="end" transform="translate(1120.4 624.5) scale(1 1)">0.0</text>
<line x1="1128.5" y1="688.8" x2="1133" y2="688.8" stroke="#000" stroke-width="1.7" />
<text font-size="24.6" text-anchor="end" transform="translate(1120.4 694.3) scale(1 1)">-2.5</text>
<line x1="1174.3" y1="749.8" x2="1174.3" y2="754.3" stroke="#000" stroke-width="1.7" />
<text font-size="24.8" text-anchor="middle" transform="translate(1170.5 777.8) scale(1 1)">-2.5</text>
<line x1="1240.7" y1="749.8" x2="1240.7" y2="754.3" stroke="#000" stroke-width="1.7" />
<text font-size="24.8" text-anchor="middle" transform="translate(1237.7 777.8) scale(1 1)">0.0</text>
<line x1="1307" y1="749.8" x2="1307" y2="754.3" stroke="#000" stroke-width="1.7" />
<text font-size="24.8" text-anchor="middle" transform="translate(1304 777.8) scale(1 1)">2.5</text>
<line x1="1373" y1="749.8" x2="1373" y2="754.3" stroke="#000" stroke-width="1.7" />
<text font-size="24.8" text-anchor="middle" transform="translate(1370 777.8) scale(1 1)">5.0</text>
<line x1="1438.8" y1="749.8" x2="1438.8" y2="754.3" stroke="#000" stroke-width="1.7" />
<text font-size="24.8" text-anchor="middle" transform="translate(1435.8 777.8) scale(1 1)">7.5</text>
<text font-size="24.6" text-anchor="middle" transform="translate(1288.5 820.8) scale(1 1)">UMAP_1</text>
<text transform="translate(1057.8 601.2) rotate(-90) scale(1 1.03)" font-size="24.1" text-anchor="middle">UMAP_2</text>
<circle cx="1462.3" cy="488.4" r="9.3" fill="#a6cee3"/>
<text transform="translate(1476.2 493.1) scale(1 1)" font-size="24.7" xml:space="preserve"><tspan>C0 </tspan><tspan font-style="italic">Gzma</tspan><tspan font-size="14.5" dy="-9">+</tspan><tspan font-style="italic" dy="9">Gzmk</tspan><tspan font-size="14.5" dy="-9">+</tspan></text>
<circle cx="1462.3" cy="516.1" r="9.3" fill="#1f78b4"/>
<text transform="translate(1476.2 520.4) scale(1 1)" font-size="24.7" xml:space="preserve"><tspan>C1 </tspan><tspan font-style="italic">Smc4</tspan><tspan font-size="14.5" dy="-9">+</tspan><tspan font-style="italic" dy="9">Csk2</tspan><tspan font-size="14.5" dy="-9">+</tspan></text>
<circle cx="1462.3" cy="543.4" r="9.3" fill="#b2df8a"/>
<text transform="translate(1476.2 547.8) scale(1 1)" font-size="24.7" xml:space="preserve"><tspan>C2 </tspan><tspan font-style="italic">Il18r1</tspan><tspan font-size="14.5" dy="-9">+</tspan><tspan font-style="italic" dy="9">Ltb</tspan><tspan font-size="14.5" dy="-9">+</tspan></text>
<circle cx="1462.3" cy="570.8" r="9.3" fill="#33a02c"/>
<text transform="translate(1476.2 575.1) scale(1 1)" font-size="24.7" xml:space="preserve"><tspan>C3 </tspan><tspan font-style="italic">Malat1</tspan><tspan font-size="14.5" dy="-9">+</tspan></text>
<circle cx="1462.3" cy="598.1" r="9.3" fill="#fb9a99"/>
<text transform="translate(1476.2 602.4) scale(1 1)" font-size="24.7" xml:space="preserve"><tspan>C4 </tspan><tspan font-style="italic">Cxcr6</tspan><tspan font-size="14.5" dy="-9">+</tspan><tspan font-style="italic" dy="9">Cxcr3</tspan><tspan font-size="14.5" dy="-9">+</tspan></text>
<circle cx="1462.3" cy="625.4" r="9.3" fill="#e31a1c"/>
<text transform="translate(1476.2 629.7) scale(1 1)" font-size="24.7" xml:space="preserve"><tspan>C5 I</tspan><tspan font-style="italic">fit1</tspan><tspan font-size="14.5" dy="-9">+</tspan><tspan font-style="italic" dy="9">Isg15</tspan><tspan font-size="14.5" dy="-9">+</tspan></text>
<circle cx="1462.3" cy="653.3" r="9.3" fill="#fdbf6f"/>
<text transform="translate(1476.2 662.3) scale(1 1)" font-size="24.7" xml:space="preserve"><tspan>C6 </tspan><tspan font-style="italic">Klf2</tspan><tspan font-size="14.5" dy="-9">+</tspan><tspan font-style="italic" dy="9">Cx3cr1</tspan><tspan font-size="14.5" dy="-9">+</tspan></text>
<circle cx="1462.3" cy="680.4" r="9.3" fill="#ff7f00"/>
<text transform="translate(1476.2 689.7) scale(1 1)" font-size="24.7" xml:space="preserve"><tspan>C7 </tspan><tspan font-style="italic">Nr4a2</tspan><tspan font-size="14.5" dy="-9">+</tspan><tspan font-style="italic" dy="9">Rgs1</tspan><tspan font-size="14.5" dy="-9">+</tspan></text>
</g>
<g id="panel-e">
<text font-size="33" font-weight="bold" transform="translate(589.6 895) scale(1 1.03)">e</text>
<line x1="824.5" y1="944.8" x2="1216.3" y2="944.8" stroke="#e7e7e7" stroke-width="1.8" />
<line x1="824.5" y1="1033.1" x2="1216.3" y2="1033.1" stroke="#e7e7e7" stroke-width="1.8" />
<line x1="824.5" y1="1121.4" x2="1216.3" y2="1121.4" stroke="#e7e7e7" stroke-width="1.8" />
<line x1="824.5" y1="1209.6" x2="1216.3" y2="1209.6" stroke="#e7e7e7" stroke-width="1.8" />
<line x1="824.5" y1="1297.9" x2="1216.3" y2="1297.9" stroke="#e7e7e7" stroke-width="1.8" />
<line x1="852.8" y1="892.5" x2="852.8" y2="1350.2" stroke="#e7e7e7" stroke-width="1.8" />
<line x1="888.35" y1="892.5" x2="888.35" y2="1350.2" stroke="#e7e7e7" stroke-width="1.8" />
<line x1="923.9" y1="892.5" x2="923.9" y2="1350.2" stroke="#e7e7e7" stroke-width="1.8" />
<line x1="959.45" y1="892.5" x2="959.45" y2="1350.2" stroke="#e7e7e7" stroke-width="1.8" />
<line x1="1030.55" y1="892.5" x2="1030.55" y2="1350.2" stroke="#e7e7e7" stroke-width="1.8" />
<line x1="1066.1" y1="892.5" x2="1066.1" y2="1350.2" stroke="#e7e7e7" stroke-width="1.8" />
<line x1="1101.65" y1="892.5" x2="1101.65" y2="1350.2" stroke="#e7e7e7" stroke-width="1.8" />
<line x1="1137.2" y1="892.5" x2="1137.2" y2="1350.2" stroke="#e7e7e7" stroke-width="1.8" />
<line x1="1172.75" y1="892.5" x2="1172.75" y2="1350.2" stroke="#e7e7e7" stroke-width="1.8" />
<line x1="1208.3" y1="892.5" x2="1208.3" y2="1350.2" stroke="#e7e7e7" stroke-width="1.8" />
<line x1="995" y1="892.5" x2="995" y2="1350.2" stroke="#000" stroke-width="1.5" />
<circle cx="1198.8" cy="944.8" r="11.4" fill="#f45f0a"/>
<text font-size="28" text-anchor="middle" transform="translate(1196.3 931) scale(1 1.04)">3</text>
<circle cx="1067" cy="1033.1" r="9.2" fill="#8560f4"/>
<text font-size="28" text-anchor="middle" transform="translate(1070.5 1018.6) scale(1 1.04)">1</text>
<circle cx="892.7" cy="1121.4" r="3" fill="#7d6cf0"/>
<text font-size="28" text-anchor="middle" transform="translate(895.2 1116) scale(1 1.04)">1</text>
<circle cx="878.6" cy="1209.6" r="7.4" fill="#62d0f6"/>
<text font-size="28" text-anchor="middle" transform="translate(880.5 1198.6) scale(1 1.04)">2</text>
<circle cx="841.8" cy="1297.9" r="3" fill="#79e46a"/>
<text font-size="28" text-anchor="middle" transform="translate(846.3 1293.3) scale(1 1.04)">1</text>
<rect x="824.5" y="892.5" width="391.8" height="457.7" fill="none" stroke="#000" stroke-width="1.1" />
<line x1="819.5" y1="944.8" x2="824.5" y2="944.8" stroke="#000" stroke-width="1.2" />
<text transform="translate(814.3 951.4) scale(1 0.98)" font-size="25" text-anchor="end" xml:space="preserve"><tspan>(C7) </tspan><tspan font-style="italic">Nr4a2</tspan><tspan font-size="14.5" dy="-9">+</tspan><tspan font-style="italic" dy="9">Rgs1</tspan><tspan font-size="14.5" dy="-9">+</tspan></text>
<line x1="819.5" y1="1033.1" x2="824.5" y2="1033.1" stroke="#000" stroke-width="1.2" />
<text transform="translate(814.3 1039.7) scale(1 0.98)" font-size="25" text-anchor="end" xml:space="preserve"><tspan>(C5) </tspan><tspan font-style="italic">Ifit1</tspan><tspan font-size="14.5" dy="-9">+</tspan><tspan font-style="italic" dy="9">Isg15</tspan><tspan font-size="14.5" dy="-9">+</tspan></text>
<line x1="819.5" y1="1121.4" x2="824.5" y2="1121.4" stroke="#000" stroke-width="1.2" />
<text transform="translate(814.3 1128) scale(1 0.98)" font-size="25" text-anchor="end" xml:space="preserve"><tspan>(C0) </tspan><tspan font-style="italic">Gzma</tspan><tspan font-size="14.5" dy="-9">+</tspan><tspan font-style="italic" dy="9">Gzmk</tspan><tspan font-size="14.5" dy="-9">+</tspan></text>
<line x1="819.5" y1="1209.6" x2="824.5" y2="1209.6" stroke="#000" stroke-width="1.2" />
<text transform="translate(814.3 1216.2) scale(1 0.98)" font-size="25" text-anchor="end" xml:space="preserve"><tspan>(C2) </tspan><tspan font-style="italic">Il18r1</tspan><tspan font-size="14.5" dy="-9">+</tspan><tspan font-style="italic" dy="9">Ltb</tspan><tspan font-size="14.5" dy="-9">+</tspan></text>
<line x1="819.5" y1="1297.9" x2="824.5" y2="1297.9" stroke="#000" stroke-width="1.2" />
<text transform="translate(814.3 1304.5) scale(1 0.98)" font-size="25" text-anchor="end" xml:space="preserve"><tspan>(C4) </tspan><tspan font-style="italic">CXCR6</tspan><tspan font-size="14.5" dy="-9">+</tspan><tspan font-style="italic" dy="9">CXCR3</tspan><tspan font-size="14.5" dy="-9">+</tspan></text>
<line x1="852.8" y1="1350.2" x2="852.8" y2="1355.2" stroke="#000" stroke-width="1.2" />
<text font-size="24.3" text-anchor="middle" transform="translate(852.3 1378) scale(1 1)">-1.0</text>
<line x1="923.9" y1="1350.2" x2="923.9" y2="1355.2" stroke="#000" stroke-width="1.2" />
<text font-size="24.3" text-anchor="middle" transform="translate(923.4 1378) scale(1 1)">-0.5</text>
<line x1="995" y1="1350.2" x2="995" y2="1355.2" stroke="#000" stroke-width="1.2" />
<text font-size="24.3" text-anchor="middle" transform="translate(995 1378) scale(1 1)">0.0</text>
<line x1="1066.1" y1="1350.2" x2="1066.1" y2="1355.2" stroke="#000" stroke-width="1.2" />
<text font-size="24.3" text-anchor="middle" transform="translate(1066.1 1378) scale(1 1)">0.5</text>
<line x1="1137.2" y1="1350.2" x2="1137.2" y2="1355.2" stroke="#000" stroke-width="1.2" />
<text font-size="24.3" text-anchor="middle" transform="translate(1137.2 1378) scale(1 1)">1.0</text>
<line x1="1208.3" y1="1350.2" x2="1208.3" y2="1355.2" stroke="#000" stroke-width="1.2" />
<text font-size="24.3" text-anchor="middle" transform="translate(1208.3 1378) scale(1 1)">1.5</text>
<text font-size="25" text-anchor="middle" transform="translate(1021.5 1407.1) scale(1 1)">normalised enrichment score</text>
<text font-size="24.9" text-anchor="middle" transform="translate(1018.4 879.2) scale(1 1)">Crem signature</text>
<text font-size="24.5" transform="translate(1233.6 1023.8) scale(1 1)">FDR.qvalue</text>
<defs><linearGradient id="ge" x1="0" y1="1" x2="0" y2="0"><stop offset="0" stop-color="#ff1e00"/><stop offset="0.06" stop-color="#f85e00"/><stop offset="0.14" stop-color="#e89400"/><stop offset="0.22" stop-color="#c8b400"/><stop offset="0.30" stop-color="#96e000"/><stop offset="0.38" stop-color="#6cf014"/><stop offset="0.48" stop-color="#58f05a"/><stop offset="0.58" stop-color="#34f0b0"/><stop offset="0.67" stop-color="#00ecf0"/><stop offset="0.75" stop-color="#48c4f4"/><stop offset="0.85" stop-color="#6e8cf2"/><stop offset="0.93" stop-color="#7a64f2"/><stop offset="1" stop-color="#8a3cf4"/></linearGradient></defs>
<rect x="1234.3" y="1048" width="23.7" height="139" fill="url(#ge)" stroke="none" stroke-width="1" />
<text font-size="20.3" transform="translate(1263.6 1064.9) scale(1 1)">1.00</text>
<text font-size="20.3" transform="translate(1263.6 1094.9) scale(1 1)">0.75</text>
<text font-size="20.3" transform="translate(1263.6 1129.8) scale(1 1)">0.50</text>
<text font-size="20.3" transform="translate(1263.6 1161.2) scale(1 1)">0.25</text>
<text font-size="20.3" transform="translate(1263.6 1189.4) scale(1 1)">0.00</text>
<line x1="1234.3" y1="1082" x2="1238.5" y2="1082" stroke="#fff" stroke-width="0.8" opacity="0.6"/>
<line x1="1253.8" y1="1082" x2="1258" y2="1082" stroke="#fff" stroke-width="0.8" opacity="0.6"/>
<line x1="1234.3" y1="1117.5" x2="1238.5" y2="1117.5" stroke="#fff" stroke-width="0.8" opacity="0.6"/>
<line x1="1253.8" y1="1117.5" x2="1258" y2="1117.5" stroke="#fff" stroke-width="0.8" opacity="0.6"/>
<line x1="1234.3" y1="1152" x2="1238.5" y2="1152" stroke="#fff" stroke-width="0.8" opacity="0.6"/>
<line x1="1253.8" y1="1152" x2="1258" y2="1152" stroke="#fff" stroke-width="0.8" opacity="0.6"/>
</g>
</svg>
</body></html>
